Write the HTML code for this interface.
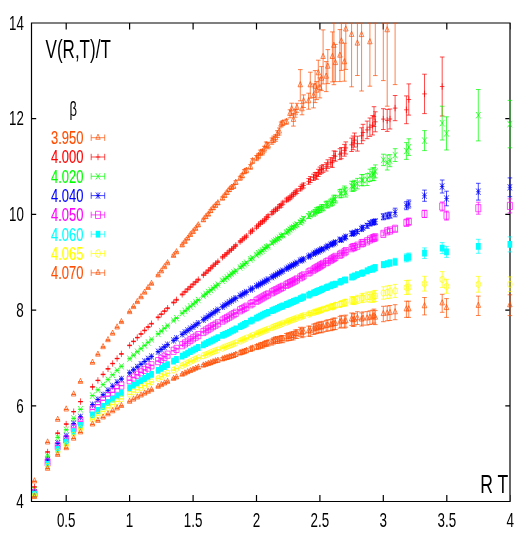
<!DOCTYPE html>
<html><head><meta charset="utf-8"><title>V(R,T)/T</title>
<style>
html,body{margin:0;padding:0;background:#fff;}
svg{display:block;opacity:0.999;will-change:transform;font-family:"Liberation Sans",sans-serif;}
</style></head><body>
<svg width="526" height="540" viewBox="0 0 526 540">
<rect width="526" height="540" fill="#fff"/>
<defs><clipPath id="c"><rect x="31.5" y="22.5" width="484.5" height="479.0"/></clipPath></defs>
<path d="M31.5 23.0H510.0V501.5H31.5ZM66.2 501.5v-6.5M66.2 23.0v6.5M129.6 501.5v-6.5M129.6 23.0v6.5M193.1 501.5v-6.5M193.1 23.0v6.5M256.5 501.5v-6.5M256.5 23.0v6.5M319.9 501.5v-6.5M319.9 23.0v6.5M383.3 501.5v-6.5M383.3 23.0v6.5M446.8 501.5v-6.5M446.8 23.0v6.5M510.2 501.5v-6.5M510.2 23.0v6.5M31.5 501.5h4.7M510.0 501.5h-4.7M31.5 405.8h4.7M510.0 405.8h-4.7M31.5 310.1h4.7M510.0 310.1h-4.7M31.5 214.4h4.7M510.0 214.4h-4.7M31.5 118.7h4.7M510.0 118.7h-4.7M31.5 23.0h4.7M510.0 23.0h-4.7" fill="none" stroke="#000" stroke-width="1.2" stroke-linejoin="miter"/>
<g clip-path="url(#c)">
<path d="M34.5 481.1V481.4M32.2 481.1H36.8M32.2 481.4H36.8M34.5 477.7L36.7 482.9H32.2ZM34.2 481.3h0.6M47.6 442.2V442.5M45.3 442.2H49.9M45.3 442.5H49.9M47.6 438.8L49.9 444.0H45.4ZM47.3 442.4h0.6M57.7 419.5V419.8M55.4 419.5H60.0M55.4 419.8H60.0M57.7 416.1L60.0 421.3H55.5ZM57.4 419.7h0.6M66.2 409.2V409.5M63.9 409.2H68.5M63.9 409.5H68.5M66.2 405.8L68.5 411.0H64.0ZM65.9 409.4h0.6M73.7 394.2V394.5M71.4 394.2H76.0M71.4 394.5H76.0M73.7 390.8L75.9 396.0H71.4ZM73.4 394.4h0.6M80.5 381.7V382.0M78.2 381.7H82.8M78.2 382.0H82.8M80.5 378.3L82.7 383.4H78.2ZM80.2 381.8h0.6M92.5 362.4V363.0M90.2 362.4H94.8M90.2 363.0H94.8M92.5 359.1L94.7 364.3H90.2ZM92.2 362.7h0.6M97.9 354.2V354.9M95.6 354.2H100.2M95.6 354.9H100.2M97.9 351.0L100.2 356.2H95.7ZM97.6 354.6h0.6M103.1 346.7V347.4M100.8 346.7H105.4M100.8 347.4H105.4M103.1 343.5L105.3 348.7H100.8ZM102.8 347.1h0.6M108.0 339.7V340.5M105.7 339.7H110.3M105.7 340.5H110.3M108.0 336.5L110.2 341.7H105.7ZM107.7 340.1h0.6M112.6 333.2V334.0M110.3 333.2H114.9M110.3 334.0H114.9M112.6 330.0L114.9 335.2H110.4ZM112.3 333.6h0.6M117.1 327.0V327.8M114.8 327.0H119.4M114.8 327.8H119.4M117.1 323.8L119.4 329.0H114.9ZM116.8 327.4h0.6M121.4 321.5V322.4M119.1 321.5H123.7M119.1 322.4H123.7M121.4 318.4L123.7 323.6H119.2ZM121.1 322.0h0.6M129.6 311.6V312.6M127.3 311.6H131.9M127.3 312.6H131.9M129.6 308.5L131.9 313.7H127.4ZM129.3 312.1h0.6M133.5 306.5V307.5M131.2 306.5H135.8M131.2 307.5H135.8M133.5 303.4L135.8 308.6H131.3ZM133.2 307.0h0.6M137.3 301.5V302.6M135.0 301.5H139.6M135.0 302.6H139.6M137.3 298.4L139.6 303.6H135.1ZM137.0 302.0h0.6M141.0 296.7V297.8M138.7 296.7H143.3M138.7 297.8H143.3M141.0 293.6L143.3 298.8H138.8ZM140.7 297.2h0.6M144.6 292.0V293.2M142.3 292.0H146.9M142.3 293.2H146.9M144.6 289.0L146.9 294.2H142.4ZM144.3 292.6h0.6M148.1 287.3V288.6M145.8 287.3H150.4M145.8 288.6H150.4M148.1 284.4L150.4 289.5H145.9ZM147.8 287.9h0.6M151.5 283.1V284.4M149.2 283.1H153.8M149.2 284.4H153.8M151.5 280.2L153.8 285.3H149.3ZM151.2 283.7h0.6M158.1 274.7V276.0M155.8 274.7H160.4M155.8 276.0H160.4M158.1 271.8L160.4 276.9H155.9ZM157.8 275.3h0.6M161.3 270.6V272.0M159.0 270.6H163.6M159.0 272.0H163.6M161.3 267.7L163.6 272.9H159.1ZM161.0 271.3h0.6M164.5 266.3V267.8M162.2 266.3H166.8M162.2 267.8H166.8M164.5 263.5L166.7 268.7H162.2ZM164.2 267.1h0.6M167.6 262.4V263.9M165.3 262.4H169.9M165.3 263.9H169.9M167.6 259.6L169.8 264.8H165.3ZM167.3 263.2h0.6M173.6 254.9V256.6M171.3 254.9H175.9M171.3 256.6H175.9M173.6 252.2L175.8 257.4H171.3ZM173.3 255.8h0.6M176.5 251.4V253.0M174.2 251.4H178.8M174.2 253.0H178.8M176.5 248.6L178.7 253.8H174.2ZM176.2 252.2h0.6M182.2 244.4V246.2M179.9 244.4H184.5M179.9 246.2H184.5M182.2 241.7L184.4 246.9H179.9ZM181.9 245.3h0.6M185.0 240.9V242.7M182.7 240.9H187.3M182.7 242.7H187.3M185.0 238.2L187.2 243.4H182.7ZM184.7 241.8h0.6M187.7 237.6V239.5M185.4 237.6H190.0M185.4 239.5H190.0M187.7 235.0L189.9 240.1H185.4ZM187.4 238.5h0.6M190.4 234.0V235.9M188.1 234.0H192.7M188.1 235.9H192.7M190.4 231.3L192.6 236.5H188.1ZM190.1 234.9h0.6M193.1 230.9V232.9M190.8 230.9H195.4M190.8 232.9H195.4M193.1 228.3L195.3 233.5H190.8ZM192.8 231.9h0.6M195.7 227.7V229.8M193.4 227.7H198.0M193.4 229.8H198.0M195.7 225.2L197.9 230.3H193.4ZM195.4 228.7h0.6M198.3 224.2V226.3M196.0 224.2H200.6M196.0 226.3H200.6M198.3 221.7L200.5 226.9H196.0ZM198.0 225.3h0.6M203.4 219.0V221.3M201.1 219.0H205.7M201.1 221.3H205.7M203.4 216.6L205.6 221.8H201.1ZM203.1 220.2h0.6M205.8 215.8V218.2M203.5 215.8H208.1M203.5 218.2H208.1M205.8 213.4L208.1 218.6H203.6ZM205.5 217.0h0.6M208.3 213.2V215.7M206.0 213.2H210.6M206.0 215.7H210.6M208.3 210.9L210.6 216.1H206.1ZM208.0 214.5h0.6M210.7 209.7V212.3M208.4 209.7H213.0M208.4 212.3H213.0M210.7 207.4L213.0 212.6H208.5ZM210.4 211.0h0.6M213.1 206.9V209.5M210.8 206.9H215.4M210.8 209.5H215.4M213.1 204.6L215.4 209.8H210.9ZM212.8 208.2h0.6M215.5 204.3V207.1M213.2 204.3H217.8M213.2 207.1H217.8M215.5 202.1L217.8 207.3H213.3ZM215.2 205.7h0.6M217.9 201.8V204.6M215.6 201.8H220.2M215.6 204.6H220.2M217.9 199.6L220.1 204.8H215.6ZM217.6 203.2h0.6M222.5 196.9V199.9M220.2 196.9H224.8M220.2 199.9H224.8M222.5 194.8L224.7 200.0H220.2ZM222.2 198.4h0.6M224.8 194.1V197.2M222.5 194.1H227.1M222.5 197.2H227.1M224.8 192.1L227.0 197.3H222.5ZM224.5 195.7h0.6M227.0 191.1V194.3M224.7 191.1H229.3M224.7 194.3H229.3M227.0 189.2L229.3 194.3H224.8ZM226.7 192.7h0.6M229.3 188.3V191.6M227.0 188.3H231.6M227.0 191.6H231.6M229.3 186.3L231.5 191.5H227.0ZM229.0 189.9h0.6M231.5 186.0V189.4M229.2 186.0H233.8M229.2 189.4H233.8M231.5 184.1L233.7 189.3H229.2ZM231.2 187.7h0.6M233.7 184.7V188.3M231.4 184.7H236.0M231.4 188.3H236.0M233.7 182.9L235.9 188.1H231.4ZM233.4 186.5h0.6M235.8 180.7V184.4M233.5 180.7H238.1M233.5 184.4H238.1M235.8 179.0L238.1 184.2H233.6ZM235.5 182.6h0.6M240.1 176.3V180.2M237.8 176.3H242.4M237.8 180.2H242.4M240.1 174.7L242.4 179.8H237.9ZM239.8 178.2h0.6M242.2 173.8V177.9M239.9 173.8H244.5M239.9 177.9H244.5M242.2 172.3L244.5 177.5H240.0ZM241.9 175.9h0.6M244.3 169.6V173.8M242.0 169.6H246.6M242.0 173.8H246.6M244.3 168.1L246.6 173.3H242.1ZM244.0 171.7h0.6M246.4 168.4V172.8M244.1 168.4H248.7M244.1 172.8H248.7M246.4 167.0L248.6 172.2H244.1ZM246.1 170.6h0.6M250.5 164.6V169.3M248.2 164.6H252.8M248.2 169.3H252.8M250.5 163.4L252.7 168.6H248.2ZM250.2 167.0h0.6M252.5 158.7V163.5M250.2 158.7H254.8M250.2 163.5H254.8M252.5 157.5L254.7 162.7H250.2ZM252.2 161.1h0.6M256.5 155.5V160.7M254.2 155.5H258.8M254.2 160.7H258.8M256.5 154.5L258.7 159.7H254.2ZM256.2 158.1h0.6M258.5 153.4V158.7M256.2 153.4H260.8M256.2 158.7H260.8M258.5 152.4L260.7 157.6H256.2ZM258.2 156.0h0.6M260.4 150.1V155.6M258.1 150.1H262.7M258.1 155.6H262.7M260.4 149.2L262.7 154.4H258.2ZM260.1 152.8h0.6M262.4 149.3V155.0M260.1 149.3H264.7M260.1 155.0H264.7M262.4 148.6L264.6 153.8H260.1ZM262.1 152.2h0.6M264.3 146.3V152.0M262.0 146.3H266.6M262.0 152.0H266.6M264.3 145.6L266.5 150.8H262.0ZM264.0 149.2h0.6M266.2 142.0V147.9M263.9 142.0H268.5M263.9 147.9H268.5M266.2 141.4L268.5 146.6H264.0ZM265.9 145.0h0.6M268.1 142.8V148.8M265.8 142.8H270.4M265.8 148.8H270.4M268.1 142.2L270.4 147.4H265.9ZM267.8 145.8h0.6M271.9 138.0V144.3M269.6 138.0H274.2M269.6 144.3H274.2M271.9 137.5L274.1 142.7H269.6ZM271.6 141.1h0.6M273.7 136.1V142.6M271.4 136.1H276.0M271.4 142.6H276.0M273.7 135.8L276.0 140.9H271.5ZM273.4 139.3h0.6M275.6 134.6V141.3M273.3 134.6H277.9M273.3 141.3H277.9M275.6 134.3L277.8 139.5H273.3ZM275.3 137.9h0.6M277.4 130.7V137.5M275.1 130.7H279.7M275.1 137.5H279.7M277.4 130.5L279.7 135.7H275.2ZM277.1 134.1h0.6M279.3 128.0V135.0M277.0 128.0H281.6M277.0 135.0H281.6M279.3 127.9L281.5 133.1H277.0ZM279.0 131.5h0.6M281.1 122.0V127.0M278.8 122.0H283.4M278.8 127.0H283.4M281.1 120.9L283.3 126.1H278.8ZM280.8 124.5h0.6M282.9 120.6V125.6M280.6 120.6H285.2M280.6 125.6H285.2M282.9 119.5L285.1 124.7H280.6ZM282.6 123.1h0.6M286.4 119.3V124.3M284.1 119.3H288.7M284.1 124.3H288.7M286.4 118.2L288.7 123.4H284.2ZM286.1 121.8h0.6M290.0 109.8V117.8M287.7 109.8H292.3M287.7 117.8H292.3M290.0 110.2L292.2 115.4H287.7ZM289.7 113.8h0.6M291.7 103.2V115.2M289.4 103.2H294.0M289.4 115.2H294.0M291.7 105.6L294.0 110.8H289.5ZM291.4 109.2h0.6M293.4 113.5V126.1M291.1 113.5H295.7M291.1 126.1H295.7M293.4 116.2L295.7 121.4H291.2ZM293.1 119.8h0.6M295.2 109.2V117.2M292.9 109.2H297.5M292.9 117.2H297.5M295.2 109.6L297.4 114.8H292.9ZM294.9 113.2h0.6M296.9 103.3V112.3M294.6 103.3H299.2M294.6 112.3H299.2M296.9 104.2L299.1 109.4H294.6ZM296.6 107.8h0.6M300.3 69.6V100.8M298.0 69.6H302.6M298.0 100.8H302.6M300.3 81.6L302.5 86.8H298.0ZM300.0 85.2h0.6M302.0 103.6V114.8M299.7 103.6H304.3M299.7 114.8H304.3M302.0 105.6L304.2 110.8H299.7ZM301.7 109.2h0.6M303.6 94.9V107.5M301.3 94.9H305.9M301.3 107.5H305.9M303.6 97.6L305.9 102.8H301.4ZM303.3 101.2h0.6M308.6 93.2V109.2M306.3 93.2H310.9M306.3 109.2H310.9M308.6 97.6L310.9 102.8H306.4ZM308.3 101.2h0.6M310.3 72.2V98.2M308.0 72.2H312.6M308.0 98.2H312.6M310.3 81.6L312.5 86.8H308.0ZM310.0 85.2h0.6M313.5 83.9V107.9M311.2 83.9H315.8M311.2 107.9H315.8M313.5 92.3L315.8 97.5H311.3ZM313.2 95.9h0.6M315.1 70.6V102.6M312.8 70.6H317.4M312.8 102.6H317.4M315.1 83.0L317.4 88.2H312.9ZM314.8 86.6h0.6M316.7 81.6V99.6M314.4 81.6H319.0M314.4 99.6H319.0M316.7 87.0L319.0 92.2H314.5ZM316.4 90.6h0.6M318.3 60.2V86.2M316.0 60.2H320.6M316.0 86.2H320.6M318.3 69.6L320.6 74.8H316.1ZM318.0 73.2h0.6M319.9 77.9V97.9M317.6 77.9H322.2M317.6 97.9H322.2M319.9 84.3L322.2 89.5H317.7ZM319.6 87.9h0.6M321.5 66.6V90.6M319.2 66.6H323.8M319.2 90.6H323.8M321.5 75.0L323.8 80.2H319.3ZM321.2 78.6h0.6M323.1 29.9V83.9M320.8 29.9H325.4M320.8 83.9H325.4M323.1 53.3L325.3 58.5H320.8ZM322.8 56.9h0.6M326.2 61.6V91.6M323.9 61.6H328.5M323.9 91.6H328.5M326.2 73.0L328.5 78.2H324.0ZM325.9 76.6h0.6M327.8 49.6V83.6M325.5 49.6H330.1M325.5 83.6H330.1M327.8 63.0L330.0 68.2H325.5ZM327.5 66.6h0.6M332.4 31.9V81.9M330.1 31.9H334.7M330.1 81.9H334.7M332.4 53.3L334.6 58.5H330.1ZM332.1 56.9h0.6M333.9 23.0V84.7M331.6 23.0H336.2M331.6 84.7H336.2M333.9 42.1L336.1 47.3H331.6ZM333.6 45.7h0.6M335.4 44.4V81.6M333.1 44.4H337.7M333.1 81.6H337.7M335.4 59.4L337.6 64.6H333.1ZM335.1 63.0h0.6M339.9 29.6V81.6M337.6 29.6H342.2M337.6 81.6H342.2M339.9 52.0L342.2 57.2H337.7ZM339.6 55.6h0.6M341.4 23.0V70.4M339.1 23.0H343.7M339.1 70.4H343.7M341.4 37.8L343.6 43.0H339.1ZM341.1 41.4h0.6M344.4 43.2V81.2M342.1 43.2H346.7M342.1 81.2H346.7M344.4 58.6L346.6 63.8H342.1ZM344.1 62.2h0.6M345.8 23.0V69.4M343.5 23.0H348.1M343.5 69.4H348.1M345.8 25.8L348.1 31.0H343.6ZM345.5 29.4h0.6M351.6 23.0V86.8M349.3 23.0H353.9M349.3 86.8H353.9M351.6 31.2L353.9 36.4H349.4ZM351.3 34.8h0.6M357.4 23.0V75.5M355.1 23.0H359.7M355.1 75.5H359.7M357.4 39.9L359.6 45.1H355.1ZM357.1 43.5h0.6M361.6 23.0V91.0M359.3 23.0H363.9M359.3 91.0H363.9M361.6 31.4L363.8 36.6H359.3ZM361.3 35.0h0.6M369.9 23.0V86.2M367.6 23.0H372.2M367.6 86.2H372.2M369.9 38.6L372.1 43.8H367.6ZM369.6 42.2h0.6M375.3 23.0V75.6M373.0 23.0H377.6M373.0 75.6H377.6M375.3 15.0L377.6 20.2H373.1ZM375.0 18.6h0.6M383.3 23.0V80.6M381.0 23.0H385.6M381.0 80.6H385.6M383.3 12.0L385.6 17.2H381.1ZM383.0 15.6h0.6M387.2 23.0V106.2M384.9 23.0H389.5M384.9 106.2H389.5M387.2 26.6L389.4 31.8H384.9ZM386.9 30.2h0.6M395.1 23.0V84.6M392.8 23.0H397.4M392.8 84.6H397.4M395.1 7.0L397.4 12.2H392.9ZM394.8 10.6h0.6" fill="none" stroke="#ff4d00" stroke-width="0.7"/>
<path d="M34.5 486.8V487.1M32.2 486.8H36.8M32.2 487.1H36.8M32.2 487.0H36.7M34.5 483.8V490.2M47.6 451.8V452.1M45.3 451.8H49.9M45.3 452.1H49.9M45.4 452.0H49.9M47.6 448.8V455.2M57.7 433.0V433.3M55.4 433.0H60.0M55.4 433.3H60.0M55.5 433.2H60.0M57.7 430.0V436.4M66.2 423.9V424.2M63.9 423.9H68.5M63.9 424.2H68.5M64.0 424.1H68.5M66.2 420.9V427.3M73.7 411.5V411.8M71.4 411.5H76.0M71.4 411.8H76.0M71.4 411.7H75.9M73.7 408.5V414.9M80.5 401.5V401.8M78.2 401.5H82.8M78.2 401.8H82.8M78.2 401.6H82.7M80.5 398.4V404.8M92.5 386.7V387.1M90.2 386.7H94.8M90.2 387.1H94.8M90.2 386.9H94.7M92.5 383.7V390.1M97.9 380.2V380.6M95.6 380.2H100.2M95.6 380.6H100.2M95.7 380.4H100.2M97.9 377.2V383.6M103.1 374.2V374.7M100.8 374.2H105.4M100.8 374.7H105.4M100.8 374.4H105.3M103.1 371.2V377.6M108.0 368.6V369.1M105.7 368.6H110.3M105.7 369.1H110.3M105.7 368.8H110.2M108.0 365.6V372.0M112.6 363.3V363.8M110.3 363.3H114.9M110.3 363.8H114.9M110.4 363.5H114.9M112.6 360.3V366.7M117.1 358.3V358.8M114.8 358.3H119.4M114.8 358.8H119.4M114.9 358.5H119.4M117.1 355.3V361.7M121.4 353.7V354.2M119.1 353.7H123.7M119.1 354.2H123.7M119.2 353.9H123.7M121.4 350.7V357.1M129.6 345.1V345.7M127.3 345.1H131.9M127.3 345.7H131.9M127.4 345.4H131.9M129.6 342.2V348.6M133.5 341.1V341.7M131.2 341.1H135.8M131.2 341.7H135.8M131.3 341.4H135.8M133.5 338.2V344.6M137.3 337.3V337.9M135.0 337.3H139.6M135.0 337.9H139.6M135.1 337.6H139.6M137.3 334.4V340.8M141.0 333.6V334.3M138.7 333.6H143.3M138.7 334.3H143.3M138.8 334.0H143.3M141.0 330.8V337.2M144.6 330.1V330.8M142.3 330.1H146.9M142.3 330.8H146.9M142.4 330.4H146.9M144.6 327.2V333.6M148.1 326.6V327.4M145.8 326.6H150.4M145.8 327.4H150.4M145.9 327.0H150.4M148.1 323.8V330.2M151.5 323.3V324.1M149.2 323.3H153.8M149.2 324.1H153.8M149.3 323.7H153.8M151.5 320.5V326.9M158.1 316.9V317.7M155.8 316.9H160.4M155.8 317.7H160.4M155.9 317.3H160.4M158.1 314.1V320.5M161.3 313.8V314.6M159.0 313.8H163.6M159.0 314.6H163.6M159.1 314.2H163.6M161.3 311.0V317.4M164.5 310.7V311.6M162.2 310.7H166.8M162.2 311.6H166.8M162.2 311.2H166.7M164.5 308.0V314.4M167.6 307.8V308.7M165.3 307.8H169.9M165.3 308.7H169.9M165.3 308.2H169.8M167.6 305.0V311.4M173.6 302.0V303.0M171.3 302.0H175.9M171.3 303.0H175.9M171.3 302.5H175.8M173.6 299.3V305.7M176.5 299.3V300.3M174.2 299.3H178.8M174.2 300.3H178.8M174.2 299.8H178.7M176.5 296.6V303.0M182.2 293.9V295.0M179.9 293.9H184.5M179.9 295.0H184.5M179.9 294.4H184.4M182.2 291.2V297.6M185.0 291.3V292.4M182.7 291.3H187.3M182.7 292.4H187.3M182.7 291.8H187.2M185.0 288.6V295.0M187.7 288.7V289.9M185.4 288.7H190.0M185.4 289.9H190.0M185.4 289.3H189.9M187.7 286.1V292.5M190.4 286.3V287.4M188.1 286.3H192.7M188.1 287.4H192.7M188.1 286.9H192.6M190.4 283.7V290.1M193.1 283.8V285.0M190.8 283.8H195.4M190.8 285.0H195.4M190.8 284.4H195.3M193.1 281.2V287.6M195.7 281.4V282.6M193.4 281.4H198.0M193.4 282.6H198.0M193.4 282.0H197.9M195.7 278.8V285.2M198.3 279.0V280.3M196.0 279.0H200.6M196.0 280.3H200.6M196.0 279.6H200.5M198.3 276.4V282.8M203.4 274.3V275.6M201.1 274.3H205.7M201.1 275.6H205.7M201.1 274.9H205.6M203.4 271.7V278.1M205.8 272.1V273.5M203.5 272.1H208.1M203.5 273.5H208.1M203.6 272.8H208.1M205.8 269.6V276.0M208.3 269.8V271.2M206.0 269.8H210.6M206.0 271.2H210.6M206.1 270.5H210.6M208.3 267.3V273.7M210.7 267.5V269.0M208.4 267.5H213.0M208.4 269.0H213.0M208.5 268.2H213.0M210.7 265.0V271.4M213.1 265.0V266.6M210.8 265.0H215.4M210.8 266.6H215.4M210.9 265.8H215.4M213.1 262.6V269.0M215.5 262.9V264.5M213.2 262.9H217.8M213.2 264.5H217.8M213.3 263.7H217.8M215.5 260.5V266.9M217.9 260.9V262.5M215.6 260.9H220.2M215.6 262.5H220.2M215.6 261.7H220.1M217.9 258.5V264.9M222.5 256.4V258.1M220.2 256.4H224.8M220.2 258.1H224.8M220.2 257.2H224.7M222.5 254.0V260.4M224.8 254.4V256.2M222.5 254.4H227.1M222.5 256.2H227.1M222.5 255.3H227.0M224.8 252.1V258.5M227.0 252.5V254.3M224.7 252.5H229.3M224.7 254.3H229.3M224.8 253.4H229.3M227.0 250.2V256.6M229.3 250.2V252.1M227.0 250.2H231.6M227.0 252.1H231.6M227.0 251.1H231.5M229.3 247.9V254.3M231.5 248.6V250.5M229.2 248.6H233.8M229.2 250.5H233.8M229.2 249.5H233.7M231.5 246.3V252.7M233.7 246.4V248.4M231.4 246.4H236.0M231.4 248.4H236.0M231.4 247.4H235.9M233.7 244.2V250.6M235.8 244.4V246.4M233.5 244.4H238.1M233.5 246.4H238.1M233.6 245.4H238.1M235.8 242.2V248.6M240.1 240.6V242.7M237.8 240.6H242.4M237.8 242.7H242.4M237.9 241.6H242.4M240.1 238.4V244.8M242.2 238.7V240.9M239.9 238.7H244.5M239.9 240.9H244.5M240.0 239.8H244.5M242.2 236.6V243.0M244.3 236.8V239.0M242.0 236.8H246.6M242.0 239.0H246.6M242.1 237.9H246.6M244.3 234.7V241.1M246.4 235.1V237.4M244.1 235.1H248.7M244.1 237.4H248.7M244.1 236.2H248.6M246.4 233.0V239.4M250.5 230.9V233.3M248.2 230.9H252.8M248.2 233.3H252.8M248.2 232.1H252.7M250.5 228.9V235.3M252.5 229.1V231.6M250.2 229.1H254.8M250.2 231.6H254.8M250.2 230.4H254.7M252.5 227.2V233.6M256.5 225.8V228.4M254.2 225.8H258.8M254.2 228.4H258.8M254.2 227.1H258.7M256.5 223.9V230.3M258.5 223.8V226.4M256.2 223.8H260.8M256.2 226.4H260.8M256.2 225.1H260.7M258.5 221.9V228.3M260.4 221.7V224.5M258.1 221.7H262.7M258.1 224.5H262.7M258.2 223.1H262.7M260.4 219.9V226.3M262.4 220.4V223.2M260.1 220.4H264.7M260.1 223.2H264.7M260.1 221.8H264.6M262.4 218.6V225.0M264.3 218.8V221.7M262.0 218.8H266.6M262.0 221.7H266.6M262.0 220.3H266.5M264.3 217.1V223.5M266.2 216.6V219.5M263.9 216.6H268.5M263.9 219.5H268.5M264.0 218.0H268.5M266.2 214.8V221.2M268.1 214.6V217.5M265.8 214.6H270.4M265.8 217.5H270.4M265.9 216.0H270.4M268.1 212.8V219.2M271.9 211.5V214.6M269.6 211.5H274.2M269.6 214.6H274.2M269.6 213.1H274.1M271.9 209.9V216.3M273.7 209.8V213.0M271.4 209.8H276.0M271.4 213.0H276.0M271.5 211.4H276.0M273.7 208.2V214.6M275.6 208.1V211.3M273.3 208.1H277.9M273.3 211.3H277.9M273.3 209.7H277.8M275.6 206.5V212.9M277.4 207.0V210.3M275.1 207.0H279.7M275.1 210.3H279.7M275.2 208.7H279.7M277.4 205.5V211.9M279.3 204.5V207.9M277.0 204.5H281.6M277.0 207.9H281.6M277.0 206.2H281.5M279.3 203.0V209.4M281.1 203.7V207.2M278.8 203.7H283.4M278.8 207.2H283.4M278.8 205.5H283.3M281.1 202.3V208.7M282.9 201.2V204.7M280.6 201.2H285.2M280.6 204.7H285.2M280.6 202.9H285.1M282.9 199.7V206.1M286.4 198.2V201.8M284.1 198.2H288.7M284.1 201.8H288.7M284.2 200.0H288.7M286.4 196.8V203.2M288.2 197.1V200.9M285.9 197.1H290.5M285.9 200.9H290.5M286.0 199.0H290.5M288.2 195.8V202.2M290.0 195.8V199.6M287.7 195.8H292.3M287.7 199.6H292.3M287.7 197.7H292.2M290.0 194.5V200.9M291.7 194.1V198.0M289.4 194.1H294.0M289.4 198.0H294.0M289.5 196.1H294.0M291.7 192.9V199.3M293.4 192.4V196.3M291.1 192.4H295.7M291.1 196.3H295.7M291.2 194.3H295.7M293.4 191.1V197.5M295.2 190.7V194.8M292.9 190.7H297.5M292.9 194.8H297.5M292.9 192.7H297.4M295.2 189.5V195.9M296.9 189.1V193.4M294.6 189.1H299.2M294.6 193.4H299.2M294.6 191.3H299.1M296.9 188.1V194.5M300.3 186.3V190.8M298.0 186.3H302.6M298.0 190.8H302.6M298.0 188.6H302.5M300.3 185.4V191.8M302.0 184.3V189.1M299.7 184.3H304.3M299.7 189.1H304.3M299.7 186.7H304.2M302.0 183.5V189.9M303.6 183.0V188.0M301.3 183.0H305.9M301.3 188.0H305.9M301.4 185.5H305.9M303.6 182.3V188.7M308.6 178.6V184.2M306.3 178.6H310.9M306.3 184.2H310.9M306.4 181.4H310.9M308.6 178.2V184.6M310.3 176.6V182.5M308.0 176.6H312.6M308.0 182.5H312.6M308.0 179.6H312.5M310.3 176.4V182.8M313.5 174.2V180.5M311.2 174.2H315.8M311.2 180.5H315.8M311.3 177.4H315.8M313.5 174.2V180.6M315.1 172.5V179.1M312.8 172.5H317.4M312.8 179.1H317.4M312.9 175.8H317.4M315.1 172.6V179.0M316.7 172.3V179.2M314.4 172.3H319.0M314.4 179.2H319.0M314.5 175.7H319.0M316.7 172.5V178.9M318.3 169.3V176.5M316.0 169.3H320.6M316.0 176.5H320.6M316.1 172.9H320.6M318.3 169.7V176.1M319.9 167.1V174.5M317.6 167.1H322.2M317.6 174.5H322.2M317.7 170.8H322.2M319.9 167.6V174.0M321.5 165.7V173.3M319.2 165.7H323.8M319.2 173.3H323.8M319.3 169.5H323.8M321.5 166.3V172.7M323.1 164.6V172.4M320.8 164.6H325.4M320.8 172.4H325.4M320.8 168.5H325.3M323.1 165.3V171.7M326.2 162.7V171.0M323.9 162.7H328.5M323.9 171.0H328.5M324.0 166.8H328.5M326.2 163.6V170.0M327.8 159.8V168.4M325.5 159.8H330.1M325.5 168.4H330.1M325.5 164.1H330.0M327.8 160.9V167.3M330.8 157.7V166.8M328.5 157.7H333.1M328.5 166.8H333.1M328.6 162.2H333.1M330.8 159.0V165.4M332.4 158.0V167.4M330.1 158.0H334.7M330.1 167.4H334.7M330.1 162.7H334.6M332.4 159.5V165.9M333.9 150.9V160.6M331.6 150.9H336.2M331.6 160.6H336.2M331.6 155.7H336.1M333.9 152.5V158.9M335.4 151.3V161.2M333.1 151.3H337.7M333.1 161.2H337.7M333.1 156.2H337.6M335.4 153.0V159.4M339.9 148.7V159.6M337.6 148.7H342.2M337.6 159.6H342.2M337.7 154.2H342.2M339.9 151.0V157.4M341.4 147.5V158.7M339.1 147.5H343.7M339.1 158.7H343.7M339.1 153.1H343.6M341.4 149.9V156.3M344.4 144.4V156.2M342.1 144.4H346.7M342.1 156.2H346.7M342.1 150.3H346.6M344.4 147.1V153.5M345.8 141.9V154.0M343.5 141.9H348.1M343.5 154.0H348.1M343.6 147.9H348.1M345.8 144.7V151.1M351.6 138.1V151.5M349.3 138.1H353.9M349.3 151.5H353.9M349.4 144.8H353.9M351.6 141.6V148.0M353.1 136.0V149.7M350.8 136.0H355.4M350.8 149.7H355.4M350.8 142.9H355.3M353.1 139.7V146.1M354.5 133.0V147.1M352.2 133.0H356.8M352.2 147.1H356.8M352.3 140.1H356.8M354.5 136.9V143.3M357.4 136.2V151.1M355.1 136.2H359.7M355.1 151.1H359.7M355.1 143.7H359.6M357.4 140.5V146.9M361.6 127.8V143.7M359.3 127.8H363.9M359.3 143.7H363.9M359.3 135.8H363.8M361.6 132.6V139.0M363.0 124.3V140.7M360.7 124.3H365.3M360.7 140.7H365.3M360.7 132.5H365.2M363.0 129.3V135.7M367.1 121.1V138.7M364.8 121.1H369.4M364.8 138.7H369.4M364.9 129.9H369.4M367.1 126.7V133.1M369.9 118.0V136.4M367.6 118.0H372.2M367.6 136.4H372.2M367.6 127.2H372.1M369.9 124.0V130.4M372.6 115.6V135.0M370.3 115.6H374.9M370.3 135.0H374.9M370.4 125.3H374.9M372.6 122.1V128.5M374.0 106.7V126.5M371.7 106.7H376.3M371.7 126.5H376.3M371.7 116.6H376.2M374.0 113.4V119.8M375.3 111.8V131.8M373.0 111.8H377.6M373.0 131.8H377.6M373.1 121.8H377.6M375.3 118.6V125.0M383.3 108.7V129.5M381.0 108.7H385.6M381.0 129.5H385.6M381.1 119.1H385.6M383.3 115.9V122.3M387.2 109.4V131.4M384.9 109.4H389.5M384.9 131.4H389.5M384.9 120.4H389.4M387.2 117.2V123.6M390.0 109.0V129.0M387.7 109.0H392.3M387.7 129.0H392.3M387.8 119.0H392.2M390.0 115.8V122.2M395.1 95.5V120.7M392.8 95.5H397.4M392.8 120.7H397.4M392.9 108.1H397.4M395.1 104.9V111.3M406.4 95.9V123.7M404.1 95.9H408.7M404.1 123.7H408.7M404.1 109.8H408.6M406.4 106.6V113.0M408.8 83.9V115.1M406.5 83.9H411.1M406.5 115.1H411.1M406.6 99.5H411.1M408.8 96.3V102.7M424.5 74.2V113.6M422.2 74.2H426.8M422.2 113.6H426.8M422.2 93.9H426.8M424.5 90.7V97.1M442.2 57.0V116.0M439.9 57.0H444.5M439.9 116.0H444.5M439.9 86.5H444.4M442.2 83.3V89.7" fill="none" stroke="#ff0000" stroke-width="0.7"/>
<path d="M34.5 489.9V490.2M32.2 489.9H36.8M32.2 490.2H36.8M32.2 486.9L36.7 493.3M32.2 493.3L36.7 486.9M47.6 456.0V456.3M45.3 456.0H49.9M45.3 456.3H49.9M45.4 452.9L49.9 459.3M45.4 459.3L49.9 452.9M57.7 437.3V437.6M55.4 437.3H60.0M55.4 437.6H60.0M55.5 434.3L60.0 440.7M55.5 440.7L60.0 434.3M66.2 429.7V430.0M63.9 429.7H68.5M63.9 430.0H68.5M64.0 426.6L68.5 433.0M64.0 433.0L68.5 426.6M73.7 418.2V418.5M71.4 418.2H76.0M71.4 418.5H76.0M71.4 415.2L75.9 421.6M71.4 421.6L75.9 415.2M80.5 409.1V409.4M78.2 409.1H82.8M78.2 409.4H82.8M78.2 406.1L82.7 412.5M78.2 412.5L82.7 406.1M92.5 395.4V395.8M90.2 395.4H94.8M90.2 395.8H94.8M90.2 392.4L94.7 398.8M90.2 398.8L94.7 392.4M97.9 389.7V390.1M95.6 389.7H100.2M95.6 390.1H100.2M95.7 386.7L100.2 393.1M95.7 393.1L100.2 386.7M103.1 384.3V384.8M100.8 384.3H105.4M100.8 384.8H105.4M100.8 381.4L105.3 387.8M100.8 387.8L105.3 381.4M108.0 379.3V379.8M105.7 379.3H110.3M105.7 379.8H110.3M105.7 376.4L110.2 382.8M105.7 382.8L110.2 376.4M112.6 374.6V375.1M110.3 374.6H114.9M110.3 375.1H114.9M110.4 371.6L114.9 378.0M110.4 378.0L114.9 371.6M117.1 370.1V370.6M114.8 370.1H119.4M114.8 370.6H119.4M114.9 367.2L119.4 373.6M114.9 373.6L119.4 367.2M121.4 366.0V366.5M119.1 366.0H123.7M119.1 366.5H123.7M119.2 363.1L123.7 369.5M119.2 369.5L123.7 363.1M129.6 358.4V359.0M127.3 358.4H131.9M127.3 359.0H131.9M127.4 355.5L131.9 361.9M127.4 361.9L131.9 355.5M133.5 354.9V355.5M131.2 354.9H135.8M131.2 355.5H135.8M131.3 352.0L135.8 358.4M131.3 358.4L135.8 352.0M137.3 351.5V352.1M135.0 351.5H139.6M135.0 352.1H139.6M135.1 348.6L139.6 355.0M135.1 355.0L139.6 348.6M141.0 348.2V348.9M138.7 348.2H143.3M138.7 348.9H143.3M138.8 345.4L143.3 351.8M138.8 351.8L143.3 345.4M144.6 345.1V345.8M142.3 345.1H146.9M142.3 345.8H146.9M142.4 342.2L146.9 348.6M142.4 348.6L146.9 342.2M148.1 342.1V342.8M145.8 342.1H150.4M145.8 342.8H150.4M145.9 339.2L150.4 345.6M145.9 345.6L150.4 339.2M151.5 339.1V339.8M149.2 339.1H153.8M149.2 339.8H153.8M149.3 336.3L153.8 342.7M149.3 342.7L153.8 336.3M158.1 333.5V334.3M155.8 333.5H160.4M155.8 334.3H160.4M155.9 330.7L160.4 337.1M155.9 337.1L160.4 330.7M161.3 330.7V331.5M159.0 330.7H163.6M159.0 331.5H163.6M159.1 327.9L163.6 334.3M159.1 334.3L163.6 327.9M164.5 327.9V328.7M162.2 327.9H166.8M162.2 328.7H166.8M162.2 325.1L166.7 331.5M162.2 331.5L166.7 325.1M167.6 325.3V326.1M165.3 325.3H169.9M165.3 326.1H169.9M165.3 322.5L169.8 328.9M165.3 328.9L169.8 322.5M173.6 320.1V321.0M171.3 320.1H175.9M171.3 321.0H175.9M171.3 317.3L175.8 323.7M171.3 323.7L175.8 317.3M176.5 317.6V318.5M174.2 317.6H178.8M174.2 318.5H178.8M174.2 314.9L178.7 321.3M174.2 321.3L178.7 314.9M182.2 312.8V313.7M179.9 312.8H184.5M179.9 313.7H184.5M179.9 310.1L184.4 316.5M179.9 316.5L184.4 310.1M185.0 310.5V311.4M182.7 310.5H187.3M182.7 311.4H187.3M182.7 307.7L187.2 314.1M182.7 314.1L187.2 307.7M187.7 308.2V309.1M185.4 308.2H190.0M185.4 309.1H190.0M185.4 305.5L189.9 311.9M185.4 311.9L189.9 305.5M190.4 306.0V306.9M188.1 306.0H192.7M188.1 306.9H192.7M188.1 303.2L192.6 309.6M188.1 309.6L192.6 303.2M193.1 303.8V304.8M190.8 303.8H195.4M190.8 304.8H195.4M190.8 301.1L195.3 307.5M190.8 307.5L195.3 301.1M195.7 301.6V302.6M193.4 301.6H198.0M193.4 302.6H198.0M193.4 298.9L197.9 305.3M193.4 305.3L197.9 298.9M198.3 299.5V300.6M196.0 299.5H200.6M196.0 300.6H200.6M196.0 296.8L200.5 303.2M196.0 303.2L200.5 296.8M203.4 295.4V296.5M201.1 295.4H205.7M201.1 296.5H205.7M201.1 292.7L205.6 299.1M201.1 299.1L205.6 292.7M205.8 293.4V294.5M203.5 293.4H208.1M203.5 294.5H208.1M203.6 290.8L208.1 297.2M203.6 297.2L208.1 290.8M208.3 291.4V292.6M206.0 291.4H210.6M206.0 292.6H210.6M206.1 288.8L210.6 295.2M206.1 295.2L210.6 288.8M210.7 289.5V290.7M208.4 289.5H213.0M208.4 290.7H213.0M208.5 286.9L213.0 293.3M208.5 293.3L213.0 286.9M213.1 287.6V288.8M210.8 287.6H215.4M210.8 288.8H215.4M210.9 285.0L215.4 291.4M210.9 291.4L215.4 285.0M215.5 285.7V287.0M213.2 285.7H217.8M213.2 287.0H217.8M213.3 283.1L217.8 289.5M213.3 289.5L217.8 283.1M217.9 283.9V285.2M215.6 283.9H220.2M215.6 285.2H220.2M215.6 281.3L220.1 287.7M215.6 287.7L220.1 281.3M222.5 280.1V281.5M220.2 280.1H224.8M220.2 281.5H224.8M220.2 277.6L224.7 284.0M220.2 284.0L224.7 277.6M224.8 278.4V279.8M222.5 278.4H227.1M222.5 279.8H227.1M222.5 275.9L227.0 282.3M222.5 282.3L227.0 275.9M227.0 276.7V278.2M224.7 276.7H229.3M224.7 278.2H229.3M224.8 274.2L229.3 280.6M224.8 280.6L229.3 274.2M229.3 274.9V276.4M227.0 274.9H231.6M227.0 276.4H231.6M227.0 272.4L231.5 278.8M227.0 278.8L231.5 272.4M231.5 273.2V274.7M229.2 273.2H233.8M229.2 274.7H233.8M229.2 270.7L233.7 277.1M229.2 277.1L233.7 270.7M233.7 271.5V273.0M231.4 271.5H236.0M231.4 273.0H236.0M231.4 269.0L235.9 275.4M231.4 275.4L235.9 269.0M235.8 270.0V271.6M233.5 270.0H238.1M233.5 271.6H238.1M233.6 267.6L238.1 274.0M233.6 274.0L238.1 267.6M240.1 266.7V268.4M237.8 266.7H242.4M237.8 268.4H242.4M237.9 264.3L242.4 270.7M237.9 270.7L242.4 264.3M242.2 265.1V266.9M239.9 265.1H244.5M239.9 266.9H244.5M240.0 262.8L244.5 269.2M240.0 269.2L244.5 262.8M244.3 263.3V265.1M242.0 263.3H246.6M242.0 265.1H246.6M242.1 261.0L246.6 267.4M242.1 267.4L246.6 261.0M246.4 261.8V263.6M244.1 261.8H248.7M244.1 263.6H248.7M244.1 259.5L248.6 265.9M244.1 265.9L248.6 259.5M250.5 258.4V260.3M248.2 258.4H252.8M248.2 260.3H252.8M248.2 256.2L252.7 262.6M248.2 262.6L252.7 256.2M252.5 257.1V259.0M250.2 257.1H254.8M250.2 259.0H254.8M250.2 254.8L254.7 261.2M250.2 261.2L254.7 254.8M256.5 254.0V256.0M254.2 254.0H258.8M254.2 256.0H258.8M254.2 251.8L258.7 258.2M254.2 258.2L258.7 251.8M258.5 252.2V254.2M256.2 252.2H260.8M256.2 254.2H260.8M256.2 250.0L260.7 256.4M256.2 256.4L260.7 250.0M260.4 251.0V253.1M258.1 251.0H262.7M258.1 253.1H262.7M258.2 248.8L262.7 255.2M258.2 255.2L262.7 248.8M262.4 249.4V251.6M260.1 249.4H264.7M260.1 251.6H264.7M260.1 247.3L264.6 253.7M260.1 253.7L264.6 247.3M264.3 247.7V249.9M262.0 247.7H266.6M262.0 249.9H266.6M262.0 245.6L266.5 252.0M262.0 252.0L266.5 245.6M266.2 245.9V248.2M263.9 245.9H268.5M263.9 248.2H268.5M264.0 243.9L268.5 250.3M264.0 250.3L268.5 243.9M268.1 245.0V247.3M265.8 245.0H270.4M265.8 247.3H270.4M265.9 243.0L270.4 249.4M265.9 249.4L270.4 243.0M271.9 241.8V244.3M269.6 241.8H274.2M269.6 244.3H274.2M269.6 239.9L274.1 246.3M269.6 246.3L274.1 239.9M273.7 240.3V242.8M271.4 240.3H276.0M271.4 242.8H276.0M271.5 238.3L276.0 244.7M271.5 244.7L276.0 238.3M275.6 239.0V241.7M273.3 239.0H277.9M273.3 241.7H277.9M273.3 237.1L277.8 243.5M273.3 243.5L277.8 237.1M277.4 237.6V240.3M275.1 237.6H279.7M275.1 240.3H279.7M275.2 235.8L279.7 242.2M275.2 242.2L279.7 235.8M279.3 236.5V239.2M277.0 236.5H281.6M277.0 239.2H281.6M277.0 234.6L281.5 241.0M277.0 241.0L281.5 234.6M281.1 234.5V237.3M278.8 234.5H283.4M278.8 237.3H283.4M278.8 232.7L283.3 239.1M278.8 239.1L283.3 232.7M282.9 233.6V236.5M280.6 233.6H285.2M280.6 236.5H285.2M280.6 231.9L285.1 238.3M280.6 238.3L285.1 231.9M286.4 231.0V234.0M284.1 231.0H288.7M284.1 234.0H288.7M284.2 229.3L288.7 235.7M284.2 235.7L288.7 229.3M288.2 229.6V232.8M285.9 229.6H290.5M285.9 232.8H290.5M286.0 228.0L290.5 234.4M286.0 234.4L290.5 228.0M290.0 227.9V231.1M287.7 227.9H292.3M287.7 231.1H292.3M287.7 226.3L292.2 232.7M287.7 232.7L292.2 226.3M291.7 226.4V229.6M289.4 226.4H294.0M289.4 229.6H294.0M289.5 224.8L294.0 231.2M289.5 231.2L294.0 224.8M293.4 225.5V228.9M291.1 225.5H295.7M291.1 228.9H295.7M291.2 224.0L295.7 230.4M291.2 230.4L295.7 224.0M295.2 224.0V227.4M292.9 224.0H297.5M292.9 227.4H297.5M292.9 222.5L297.4 228.9M292.9 228.9L297.4 222.5M296.9 222.6V226.2M294.6 222.6H299.2M294.6 226.2H299.2M294.6 221.2L299.1 227.6M294.6 227.6L299.1 221.2M300.3 220.5V224.3M298.0 220.5H302.6M298.0 224.3H302.6M298.0 219.2L302.5 225.6M298.0 225.6L302.5 219.2M302.0 218.7V222.7M299.7 218.7H304.3M299.7 222.7H304.3M299.7 217.5L304.2 223.9M299.7 223.9L304.2 217.5M303.6 216.6V220.8M301.3 216.6H305.9M301.3 220.8H305.9M301.4 215.5L305.9 221.9M301.4 221.9L305.9 215.5M308.6 213.8V218.5M306.3 213.8H310.9M306.3 218.5H310.9M306.4 213.0L310.9 219.4M306.4 219.4L310.9 213.0M310.3 211.9V216.8M308.0 211.9H312.6M308.0 216.8H312.6M308.0 211.1L312.5 217.5M308.0 217.5L312.5 211.1M313.5 210.9V216.1M311.2 210.9H315.8M311.2 216.1H315.8M311.3 210.3L315.8 216.7M311.3 216.7L315.8 210.3M315.1 209.5V214.9M312.8 209.5H317.4M312.8 214.9H317.4M312.9 209.0L317.4 215.4M312.9 215.4L317.4 209.0M316.7 207.8V213.4M314.4 207.8H319.0M314.4 213.4H319.0M314.5 207.4L319.0 213.8M314.5 213.8L319.0 207.4M318.3 207.0V212.8M316.0 207.0H320.6M316.0 212.8H320.6M316.1 206.7L320.6 213.1M316.1 213.1L320.6 206.7M319.9 206.4V212.4M317.6 206.4H322.2M317.6 212.4H322.2M317.7 206.2L322.2 212.6M317.7 212.6L322.2 206.2M321.5 204.8V210.9M319.2 204.8H323.8M319.2 210.9H323.8M319.3 204.7L323.8 211.1M319.3 211.1L323.8 204.7M323.1 204.5V210.8M320.8 204.5H325.4M320.8 210.8H325.4M320.8 204.5L325.3 210.9M320.8 210.9L325.3 204.5M326.2 201.3V208.0M323.9 201.3H328.5M323.9 208.0H328.5M324.0 201.5L328.5 207.9M324.0 207.9L328.5 201.5M327.8 201.0V207.8M325.5 201.0H330.1M325.5 207.8H330.1M325.5 201.2L330.0 207.6M325.5 207.6L330.0 201.2M330.8 199.1V206.3M328.5 199.1H333.1M328.5 206.3H333.1M328.6 199.5L333.1 205.9M328.6 205.9L333.1 199.5M332.4 198.1V205.4M330.1 198.1H334.7M330.1 205.4H334.7M330.1 198.6L334.6 205.0M330.1 205.0L334.6 198.6M333.9 195.2V202.7M331.6 195.2H336.2M331.6 202.7H336.2M331.6 195.7L336.1 202.1M331.6 202.1L336.1 195.7M335.4 195.3V203.0M333.1 195.3H337.7M333.1 203.0H337.7M333.1 196.0L337.6 202.4M333.1 202.4L337.6 196.0M339.9 189.5V197.8M337.6 189.5H342.2M337.6 197.8H342.2M337.7 190.5L342.2 196.9M337.7 196.9L342.2 190.5M341.4 189.1V197.6M339.1 189.1H343.7M339.1 197.6H343.7M339.1 190.2L343.6 196.6M339.1 196.6L343.6 190.2M344.4 186.0V194.9M342.1 186.0H346.7M342.1 194.9H346.7M342.1 187.2L346.6 193.6M342.1 193.6L346.6 187.2M345.8 187.9V197.0M343.5 187.9H348.1M343.5 197.0H348.1M343.6 189.3L348.1 195.7M343.6 195.7L348.1 189.3M351.6 181.2V191.0M349.3 181.2H353.9M349.3 191.0H353.9M349.4 182.9L353.9 189.3M349.4 189.3L353.9 182.9M353.1 181.5V191.5M350.8 181.5H355.4M350.8 191.5H355.4M350.8 183.3L355.3 189.7M350.8 189.7L355.3 183.3M354.5 180.3V190.4M352.2 180.3H356.8M352.2 190.4H356.8M352.3 182.1L356.8 188.5M352.3 188.5L356.8 182.1M357.4 178.4V188.9M355.1 178.4H359.7M355.1 188.9H359.7M355.1 180.4L359.6 186.8M355.1 186.8L359.6 180.4M361.6 174.6V185.6M359.3 174.6H363.9M359.3 185.6H363.9M359.3 176.9L363.8 183.3M359.3 183.3L363.8 176.9M363.0 174.6V185.8M360.7 174.6H365.3M360.7 185.8H365.3M360.7 177.0L365.2 183.4M360.7 183.4L365.2 177.0M367.1 173.6V185.5M364.8 173.6H369.4M364.8 185.5H369.4M364.9 176.4L369.4 182.8M364.9 182.8L369.4 176.4M369.9 169.2V181.5M367.6 169.2H372.2M367.6 181.5H372.2M367.6 172.2L372.1 178.6M367.6 178.6L372.1 172.2M372.6 167.9V180.6M370.3 167.9H374.9M370.3 180.6H374.9M370.4 171.1L374.9 177.5M370.4 177.5L374.9 171.1M374.0 167.7V180.6M371.7 167.7H376.3M371.7 180.6H376.3M371.7 170.9L376.2 177.3M371.7 177.3L376.2 170.9M375.3 164.9V177.9M373.0 164.9H377.6M373.0 177.9H377.6M373.1 168.2L377.6 174.6M373.1 174.6L377.6 168.2M383.3 154.2V165.6M381.0 154.2H385.6M381.0 165.6H385.6M381.1 156.7L385.6 163.1M381.1 163.1L385.6 156.7M387.2 155.0V170.0M384.9 155.0H389.5M384.9 170.0H389.5M384.9 159.3L389.4 165.7M384.9 165.7L389.4 159.3M390.0 154.7V166.7M387.7 154.7H392.3M387.7 166.7H392.3M387.8 157.5L392.2 163.9M387.8 163.9L392.2 157.5M395.1 148.7V161.5M392.8 148.7H397.4M392.8 161.5H397.4M392.9 151.9L397.4 158.3M392.9 158.3L397.4 151.9M406.4 142.6V159.4M404.1 142.6H408.7M404.1 159.4H408.7M404.1 147.8L408.6 154.2M404.1 154.2L408.6 147.8M408.8 138.8V155.4M406.5 138.8H411.1M406.5 155.4H411.1M406.6 143.9L411.1 150.3M406.6 150.3L411.1 143.9M424.5 130.6V150.6M422.2 130.6H426.8M422.2 150.6H426.8M422.2 137.4L426.8 143.8M422.2 143.8L426.8 137.4M442.2 106.2V140.0M439.9 106.2H444.5M439.9 140.0H444.5M439.9 119.9L444.4 126.3M439.9 126.3L444.4 119.9M446.5 116.8V150.0M444.2 116.8H448.8M444.2 150.0H448.8M444.2 130.2L448.8 136.6M444.2 136.6L448.8 130.2M478.3 89.5V140.9M476.0 89.5H480.6M476.0 140.9H480.6M476.1 112.0L480.6 118.4M476.1 118.4L480.6 112.0M509.9 100.4V147.8M507.6 100.4H512.2M507.6 147.8H512.2M507.6 120.9L512.1 127.3M507.6 127.3L512.1 120.9" fill="none" stroke="#00ff00" stroke-width="0.7"/>
<path d="M34.5 492.3V492.6M32.2 492.3H36.8M32.2 492.6H36.8M32.2 492.5H36.7M34.5 489.3V495.7M32.2 489.3L36.7 495.7M32.2 495.7L36.7 489.3M47.6 459.8V460.1M45.3 459.8H49.9M45.3 460.1H49.9M45.4 460.0H49.9M47.6 456.8V463.2M45.4 456.8L49.9 463.2M45.4 463.2L49.9 456.8M57.7 443.1V443.4M55.4 443.1H60.0M55.4 443.4H60.0M55.5 443.2H60.0M57.7 440.0V446.4M55.5 440.0L60.0 446.4M55.5 446.4L60.0 440.0M66.2 435.9V436.2M63.9 435.9H68.5M63.9 436.2H68.5M64.0 436.1H68.5M66.2 432.9V439.3M64.0 432.9L68.5 439.3M64.0 439.3L68.5 432.9M73.7 423.5V423.8M71.4 423.5H76.0M71.4 423.8H76.0M71.4 423.6H75.9M73.7 420.4V426.8M71.4 420.4L75.9 426.8M71.4 426.8L75.9 420.4M80.5 416.8V417.1M78.2 416.8H82.8M78.2 417.1H82.8M78.2 416.9H82.7M80.5 413.7V420.1M78.2 413.7L82.7 420.1M78.2 420.1L82.7 413.7M92.5 404.5V404.8M90.2 404.5H94.8M90.2 404.8H94.8M90.2 404.7H94.7M92.5 401.5V407.9M90.2 401.5L94.7 407.9M90.2 407.9L94.7 401.5M97.9 399.4V399.7M95.6 399.4H100.2M95.6 399.7H100.2M95.7 399.6H100.2M97.9 396.4V402.8M95.7 396.4L100.2 402.8M95.7 402.8L100.2 396.4M103.1 394.7V395.0M100.8 394.7H105.4M100.8 395.0H105.4M100.8 394.8H105.3M103.1 391.6V398.0M100.8 391.6L105.3 398.0M100.8 398.0L105.3 391.6M108.0 390.2V390.6M105.7 390.2H110.3M105.7 390.6H110.3M105.7 390.4H110.2M108.0 387.2V393.6M105.7 387.2L110.2 393.6M105.7 393.6L110.2 387.2M112.6 386.1V386.4M110.3 386.1H114.9M110.3 386.4H114.9M110.4 386.3H114.9M112.6 383.1V389.5M110.4 383.1L114.9 389.5M110.4 389.5L114.9 383.1M117.1 382.2V382.5M114.8 382.2H119.4M114.8 382.5H119.4M114.9 382.3H119.4M117.1 379.1V385.5M114.9 379.1L119.4 385.5M114.9 385.5L119.4 379.1M121.4 378.8V379.2M119.1 378.8H123.7M119.1 379.2H123.7M119.2 379.0H123.7M121.4 375.8V382.2M119.2 375.8L123.7 382.2M119.2 382.2L123.7 375.8M129.6 372.7V373.1M127.3 372.7H131.9M127.3 373.1H131.9M127.4 372.9H131.9M129.6 369.7V376.1M127.4 369.7L131.9 376.1M127.4 376.1L131.9 369.7M133.5 369.7V370.1M131.2 369.7H135.8M131.2 370.1H135.8M131.3 369.9H135.8M133.5 366.7V373.1M131.3 366.7L135.8 373.1M131.3 373.1L135.8 366.7M137.3 366.8V367.2M135.0 366.8H139.6M135.0 367.2H139.6M135.1 367.0H139.6M137.3 363.8V370.2M135.1 363.8L139.6 370.2M135.1 370.2L139.6 363.8M141.0 364.0V364.4M138.7 364.0H143.3M138.7 364.4H143.3M138.8 364.2H143.3M141.0 361.0V367.4M138.8 361.0L143.3 367.4M138.8 367.4L143.3 361.0M144.6 361.3V361.7M142.3 361.3H146.9M142.3 361.7H146.9M142.4 361.5H146.9M144.6 358.3V364.7M142.4 358.3L146.9 364.7M142.4 364.7L146.9 358.3M148.1 358.7V359.2M145.8 358.7H150.4M145.8 359.2H150.4M145.9 358.9H150.4M148.1 355.7V362.1M145.9 355.7L150.4 362.1M145.9 362.1L150.4 355.7M151.5 356.2V356.7M149.2 356.2H153.8M149.2 356.7H153.8M149.3 356.5H153.8M151.5 353.3V359.7M149.3 353.3L153.8 359.7M149.3 359.7L153.8 353.3M158.1 351.5V352.0M155.8 351.5H160.4M155.8 352.0H160.4M155.9 351.7H160.4M158.1 348.5V354.9M155.9 348.5L160.4 354.9M155.9 354.9L160.4 348.5M161.3 349.1V349.6M159.0 349.1H163.6M159.0 349.6H163.6M159.1 349.3H163.6M161.3 346.1V352.5M159.1 346.1L163.6 352.5M159.1 352.5L163.6 346.1M164.5 346.7V347.3M162.2 346.7H166.8M162.2 347.3H166.8M162.2 347.0H166.7M164.5 343.8V350.2M162.2 343.8L166.7 350.2M162.2 350.2L166.7 343.8M167.6 344.5V345.0M165.3 344.5H169.9M165.3 345.0H169.9M165.3 344.7H169.8M167.6 341.5V347.9M165.3 341.5L169.8 347.9M165.3 347.9L169.8 341.5M173.6 340.1V340.7M171.3 340.1H175.9M171.3 340.7H175.9M171.3 340.4H175.8M173.6 337.2V343.6M171.3 337.2L175.8 343.6M171.3 343.6L175.8 337.2M176.5 338.0V338.6M174.2 338.0H178.8M174.2 338.6H178.8M174.2 338.3H178.7M176.5 335.1V341.5M174.2 335.1L178.7 341.5M174.2 341.5L178.7 335.1M182.2 334.0V334.6M179.9 334.0H184.5M179.9 334.6H184.5M179.9 334.3H184.4M182.2 331.1V337.5M179.9 331.1L184.4 337.5M179.9 337.5L184.4 331.1M185.0 332.0V332.7M182.7 332.0H187.3M182.7 332.7H187.3M182.7 332.3H187.2M185.0 329.1V335.5M182.7 329.1L187.2 335.5M182.7 335.5L187.2 329.1M187.7 330.1V330.8M185.4 330.1H190.0M185.4 330.8H190.0M185.4 330.4H189.9M187.7 327.2V333.6M185.4 327.2L189.9 333.6M185.4 333.6L189.9 327.2M190.4 328.2V328.9M188.1 328.2H192.7M188.1 328.9H192.7M188.1 328.6H192.6M190.4 325.4V331.8M188.1 325.4L192.6 331.8M188.1 331.8L192.6 325.4M193.1 326.4V327.1M190.8 326.4H195.4M190.8 327.1H195.4M190.8 326.8H195.3M193.1 323.6V330.0M190.8 323.6L195.3 330.0M190.8 330.0L195.3 323.6M195.7 324.6V325.3M193.4 324.6H198.0M193.4 325.3H198.0M193.4 325.0H197.9M195.7 321.8V328.2M193.4 321.8L197.9 328.2M193.4 328.2L197.9 321.8M198.3 322.8V323.6M196.0 322.8H200.6M196.0 323.6H200.6M196.0 323.2H200.5M198.3 320.0V326.4M196.0 320.0L200.5 326.4M196.0 326.4L200.5 320.0M203.4 319.3V320.1M201.1 319.3H205.7M201.1 320.1H205.7M201.1 319.7H205.6M203.4 316.5V322.9M201.1 316.5L205.6 322.9M201.1 322.9L205.6 316.5M205.8 317.6V318.4M203.5 317.6H208.1M203.5 318.4H208.1M203.6 318.0H208.1M205.8 314.8V321.2M203.6 314.8L208.1 321.2M203.6 321.2L208.1 314.8M208.3 315.9V316.7M206.0 315.9H210.6M206.0 316.7H210.6M206.1 316.3H210.6M208.3 313.1V319.5M206.1 313.1L210.6 319.5M206.1 319.5L210.6 313.1M210.7 314.2V315.0M208.4 314.2H213.0M208.4 315.0H213.0M208.5 314.6H213.0M210.7 311.4V317.8M208.5 311.4L213.0 317.8M208.5 317.8L213.0 311.4M213.1 312.6V313.4M210.8 312.6H215.4M210.8 313.4H215.4M210.9 313.0H215.4M213.1 309.8V316.2M210.9 309.8L215.4 316.2M210.9 316.2L215.4 309.8M215.5 311.0V311.8M213.2 311.0H217.8M213.2 311.8H217.8M213.3 311.4H217.8M215.5 308.2V314.6M213.3 308.2L217.8 314.6M213.3 314.6L217.8 308.2M217.9 309.4V310.3M215.6 309.4H220.2M215.6 310.3H220.2M215.6 309.8H220.1M217.9 306.6V313.0M215.6 306.6L220.1 313.0M215.6 313.0L220.1 306.6M222.5 306.3V307.2M220.2 306.3H224.8M220.2 307.2H224.8M220.2 306.8H224.7M222.5 303.6V310.0M220.2 303.6L224.7 310.0M220.2 310.0L224.7 303.6M224.8 304.8V305.7M222.5 304.8H227.1M222.5 305.7H227.1M222.5 305.3H227.0M224.8 302.1V308.5M222.5 302.1L227.0 308.5M222.5 308.5L227.0 302.1M227.0 303.3V304.3M224.7 303.3H229.3M224.7 304.3H229.3M224.8 303.8H229.3M227.0 300.6V307.0M224.8 300.6L229.3 307.0M224.8 307.0L229.3 300.6M229.3 301.9V302.8M227.0 301.9H231.6M227.0 302.8H231.6M227.0 302.3H231.5M229.3 299.1V305.5M227.0 299.1L231.5 305.5M227.0 305.5L231.5 299.1M231.5 300.4V301.4M229.2 300.4H233.8M229.2 301.4H233.8M229.2 300.9H233.7M231.5 297.7V304.1M229.2 297.7L233.7 304.1M229.2 304.1L233.7 297.7M233.7 299.0V300.0M231.4 299.0H236.0M231.4 300.0H236.0M231.4 299.5H235.9M233.7 296.3V302.7M231.4 296.3L235.9 302.7M231.4 302.7L235.9 296.3M235.8 297.7V298.7M233.5 297.7H238.1M233.5 298.7H238.1M233.6 298.2H238.1M235.8 295.0V301.4M233.6 295.0L238.1 301.4M233.6 301.4L238.1 295.0M240.1 295.2V296.2M237.8 295.2H242.4M237.8 296.2H242.4M237.9 295.7H242.4M240.1 292.5V298.9M237.9 292.5L242.4 298.9M237.9 298.9L242.4 292.5M242.2 293.9V295.0M239.9 293.9H244.5M239.9 295.0H244.5M240.0 294.4H244.5M242.2 291.2V297.6M240.0 291.2L244.5 297.6M240.0 297.6L244.5 291.2M244.3 292.7V293.8M242.0 292.7H246.6M242.0 293.8H246.6M242.1 293.2H246.6M244.3 290.0V296.4M242.1 290.0L246.6 296.4M242.1 296.4L246.6 290.0M246.4 291.4V292.5M244.1 291.4H248.7M244.1 292.5H248.7M244.1 292.0H248.6M246.4 288.8V295.2M244.1 288.8L248.6 295.2M244.1 295.2L248.6 288.8M250.5 289.1V290.2M248.2 289.1H252.8M248.2 290.2H252.8M248.2 289.6H252.7M250.5 286.4V292.8M248.2 286.4L252.7 292.8M248.2 292.8L252.7 286.4M252.5 287.9V289.1M250.2 287.9H254.8M250.2 289.1H254.8M250.2 288.5H254.7M252.5 285.3V291.7M250.2 285.3L254.7 291.7M250.2 291.7L254.7 285.3M256.5 285.5V286.7M254.2 285.5H258.8M254.2 286.7H258.8M254.2 286.1H258.7M256.5 282.9V289.3M254.2 282.9L258.7 289.3M254.2 289.3L258.7 282.9M258.5 284.4V285.7M256.2 284.4H260.8M256.2 285.7H260.8M256.2 285.0H260.7M258.5 281.8V288.2M256.2 281.8L260.7 288.2M256.2 288.2L260.7 281.8M260.4 283.3V284.6M258.1 283.3H262.7M258.1 284.6H262.7M258.2 284.0H262.7M260.4 280.8V287.2M258.2 280.8L262.7 287.2M258.2 287.2L262.7 280.8M262.4 282.2V283.5M260.1 282.2H264.7M260.1 283.5H264.7M260.1 282.8H264.6M262.4 279.6V286.0M260.1 279.6L264.6 286.0M260.1 286.0L264.6 279.6M264.3 281.1V282.4M262.0 281.1H266.6M262.0 282.4H266.6M262.0 281.7H266.5M264.3 278.5V284.9M262.0 278.5L266.5 284.9M262.0 284.9L266.5 278.5M266.2 280.0V281.3M263.9 280.0H268.5M263.9 281.3H268.5M264.0 280.6H268.5M266.2 277.4V283.8M264.0 277.4L268.5 283.8M264.0 283.8L268.5 277.4M268.1 278.7V280.1M265.8 278.7H270.4M265.8 280.1H270.4M265.9 279.4H270.4M268.1 276.2V282.6M265.9 276.2L270.4 282.6M265.9 282.6L270.4 276.2M271.9 276.5V277.9M269.6 276.5H274.2M269.6 277.9H274.2M269.6 277.2H274.1M271.9 274.0V280.4M269.6 274.0L274.1 280.4M269.6 280.4L274.1 274.0M273.7 275.4V276.9M271.4 275.4H276.0M271.4 276.9H276.0M271.5 276.1H276.0M273.7 272.9V279.3M271.5 272.9L276.0 279.3M271.5 279.3L276.0 272.9M275.6 274.3V275.8M273.3 274.3H277.9M273.3 275.8H277.9M273.3 275.1H277.8M275.6 271.9V278.3M273.3 271.9L277.8 278.3M273.3 278.3L277.8 271.9M277.4 273.2V274.7M275.1 273.2H279.7M275.1 274.7H279.7M275.2 273.9H279.7M277.4 270.7V277.1M275.2 270.7L279.7 277.1M275.2 277.1L279.7 270.7M279.3 272.1V273.7M277.0 272.1H281.6M277.0 273.7H281.6M277.0 272.9H281.5M279.3 269.7V276.1M277.0 269.7L281.5 276.1M277.0 276.1L281.5 269.7M281.1 270.9V272.6M278.8 270.9H283.4M278.8 272.6H283.4M278.8 271.7H283.3M281.1 268.5V274.9M278.8 268.5L283.3 274.9M278.8 274.9L283.3 268.5M282.9 269.9V271.6M280.6 269.9H285.2M280.6 271.6H285.2M280.6 270.7H285.1M282.9 267.5V273.9M280.6 267.5L285.1 273.9M280.6 273.9L285.1 267.5M286.4 267.9V269.6M284.1 267.9H288.7M284.1 269.6H288.7M284.2 268.8H288.7M286.4 265.6V272.0M284.2 265.6L288.7 272.0M284.2 272.0L288.7 265.6M288.2 266.8V268.6M285.9 266.8H290.5M285.9 268.6H290.5M286.0 267.7H290.5M288.2 264.5V270.9M286.0 264.5L290.5 270.9M286.0 270.9L290.5 264.5M290.0 265.7V267.5M287.7 265.7H292.3M287.7 267.5H292.3M287.7 266.6H292.2M290.0 263.4V269.8M287.7 263.4L292.2 269.8M287.7 269.8L292.2 263.4M291.7 264.7V266.5M289.4 264.7H294.0M289.4 266.5H294.0M289.5 265.6H294.0M291.7 262.4V268.8M289.5 262.4L294.0 268.8M289.5 268.8L294.0 262.4M293.4 264.0V265.8M291.1 264.0H295.7M291.1 265.8H295.7M291.2 264.9H295.7M293.4 261.7V268.1M291.2 261.7L295.7 268.1M291.2 268.1L295.7 261.7M295.2 262.8V264.7M292.9 262.8H297.5M292.9 264.7H297.5M292.9 263.8H297.4M295.2 260.6V267.0M292.9 260.6L297.4 267.0M292.9 267.0L297.4 260.6M296.9 261.8V263.8M294.6 261.8H299.2M294.6 263.8H299.2M294.6 262.8H299.1M296.9 259.6V266.0M294.6 259.6L299.1 266.0M294.6 266.0L299.1 259.6M300.3 259.6V261.6M298.0 259.6H302.6M298.0 261.6H302.6M298.0 260.6H302.5M300.3 257.4V263.8M298.0 257.4L302.5 263.8M298.0 263.8L302.5 257.4M302.0 259.0V261.1M299.7 259.0H304.3M299.7 261.1H304.3M299.7 260.0H304.2M302.0 256.8V263.2M299.7 256.8L304.2 263.2M299.7 263.2L304.2 256.8M303.6 258.1V260.2M301.3 258.1H305.9M301.3 260.2H305.9M301.4 259.1H305.9M303.6 255.9V262.3M301.4 255.9L305.9 262.3M301.4 262.3L305.9 255.9M308.6 255.5V257.7M306.3 255.5H310.9M306.3 257.7H310.9M306.4 256.6H310.9M308.6 253.4V259.8M306.4 253.4L310.9 259.8M306.4 259.8L310.9 253.4M310.3 254.4V256.7M308.0 254.4H312.6M308.0 256.7H312.6M308.0 255.6H312.5M310.3 252.4V258.8M308.0 252.4L312.5 258.8M308.0 258.8L312.5 252.4M313.5 252.6V255.0M311.2 252.6H315.8M311.2 255.0H315.8M311.3 253.8H315.8M313.5 250.6V257.0M311.3 250.6L315.8 257.0M311.3 257.0L315.8 250.6M315.1 251.8V254.2M312.8 251.8H317.4M312.8 254.2H317.4M312.9 253.0H317.4M315.1 249.8V256.2M312.9 249.8L317.4 256.2M312.9 256.2L317.4 249.8M316.7 250.5V253.0M314.4 250.5H319.0M314.4 253.0H319.0M314.5 251.8H319.0M316.7 248.6V255.0M314.5 248.6L319.0 255.0M314.5 255.0L319.0 248.6M318.3 250.1V252.7M316.0 250.1H320.6M316.0 252.7H320.6M316.1 251.4H320.6M318.3 248.2V254.6M316.1 248.2L320.6 254.6M316.1 254.6L320.6 248.2M319.9 249.1V251.7M317.6 249.1H322.2M317.6 251.7H322.2M317.7 250.4H322.2M319.9 247.2V253.6M317.7 247.2L322.2 253.6M317.7 253.6L322.2 247.2M321.5 248.1V250.8M319.2 248.1H323.8M319.2 250.8H323.8M319.3 249.5H323.8M321.5 246.3V252.7M319.3 246.3L323.8 252.7M319.3 252.7L323.8 246.3M323.1 247.6V250.3M320.8 247.6H325.4M320.8 250.3H325.4M320.8 249.0H325.3M323.1 245.8V252.2M320.8 245.8L325.3 252.2M320.8 252.2L325.3 245.8M326.2 246.0V248.8M323.9 246.0H328.5M323.9 248.8H328.5M324.0 247.4H328.5M326.2 244.2V250.6M324.0 244.2L328.5 250.6M324.0 250.6L328.5 244.2M327.8 244.6V247.5M325.5 244.6H330.1M325.5 247.5H330.1M325.5 246.0H330.0M327.8 242.8V249.2M325.5 242.8L330.0 249.2M325.5 249.2L330.0 242.8M330.8 243.1V246.1M328.5 243.1H333.1M328.5 246.1H333.1M328.6 244.6H333.1M330.8 241.4V247.8M328.6 241.4L333.1 247.8M328.6 247.8L333.1 241.4M332.4 242.5V245.5M330.1 242.5H334.7M330.1 245.5H334.7M330.1 244.0H334.6M332.4 240.8V247.2M330.1 240.8L334.6 247.2M330.1 247.2L334.6 240.8M333.9 241.6V244.7M331.6 241.6H336.2M331.6 244.7H336.2M331.6 243.2H336.1M333.9 240.0V246.4M331.6 240.0L336.1 246.4M331.6 246.4L336.1 240.0M335.4 240.7V243.8M333.1 240.7H337.7M333.1 243.8H337.7M333.1 242.3H337.6M335.4 239.1V245.5M333.1 239.1L337.6 245.5M333.1 245.5L337.6 239.1M339.9 238.2V241.5M337.6 238.2H342.2M337.6 241.5H342.2M337.7 239.8H342.2M339.9 236.6V243.0M337.7 236.6L342.2 243.0M337.7 243.0L342.2 236.6M341.4 238.1V241.5M339.1 238.1H343.7M339.1 241.5H343.7M339.1 239.8H343.6M341.4 236.6V243.0M339.1 236.6L343.6 243.0M339.1 243.0L343.6 236.6M344.4 236.3V239.8M342.1 236.3H346.7M342.1 239.8H346.7M342.1 238.0H346.6M344.4 234.8V241.2M342.1 234.8L346.6 241.2M342.1 241.2L346.6 234.8M345.8 235.0V238.5M343.5 235.0H348.1M343.5 238.5H348.1M343.6 236.7H348.1M345.8 233.5V239.9M343.6 233.5L348.1 239.9M343.6 239.9L348.1 233.5M351.6 231.7V235.5M349.3 231.7H353.9M349.3 235.5H353.9M349.4 233.6H353.9M351.6 230.4V236.8M349.4 230.4L353.9 236.8M349.4 236.8L353.9 230.4M353.1 231.8V235.6M350.8 231.8H355.4M350.8 235.6H355.4M350.8 233.7H355.3M353.1 230.5V236.9M350.8 230.5L355.3 236.9M350.8 236.9L355.3 230.5M354.5 230.8V234.7M352.2 230.8H356.8M352.2 234.7H356.8M352.3 232.7H356.8M354.5 229.5V235.9M352.3 229.5L356.8 235.9M352.3 235.9L356.8 229.5M357.4 229.5V233.5M355.1 229.5H359.7M355.1 233.5H359.7M355.1 231.5H359.6M357.4 228.3V234.7M355.1 228.3L359.6 234.7M355.1 234.7L359.6 228.3M361.6 226.8V231.1M359.3 226.8H363.9M359.3 231.1H363.9M359.3 228.9H363.8M361.6 225.7V232.1M359.3 225.7L363.8 232.1M359.3 232.1L363.8 225.7M363.0 225.5V229.8M360.7 225.5H365.3M360.7 229.8H365.3M360.7 227.6H365.2M363.0 224.4V230.8M360.7 224.4L365.2 230.8M360.7 230.8L365.2 224.4M367.1 223.5V228.1M364.8 223.5H369.4M364.8 228.1H369.4M364.9 225.8H369.4M367.1 222.6V229.0M364.9 222.6L369.4 229.0M364.9 229.0L369.4 222.6M369.9 221.1V225.8M367.6 221.1H372.2M367.6 225.8H372.2M367.6 223.5H372.1M369.9 220.3V226.7M367.6 220.3L372.1 226.7M367.6 226.7L372.1 220.3M372.6 220.1V225.0M370.3 220.1H374.9M370.3 225.0H374.9M370.4 222.5H374.9M372.6 219.3V225.7M370.4 219.3L374.9 225.7M370.4 225.7L374.9 219.3M374.0 219.6V224.6M371.7 219.6H376.3M371.7 224.6H376.3M371.7 222.1H376.2M374.0 218.9V225.3M371.7 218.9L376.2 225.3M371.7 225.3L376.2 218.9M375.3 219.1V224.1M373.0 219.1H377.6M373.0 224.1H377.6M373.1 221.6H377.6M375.3 218.4V224.8M373.1 218.4L377.6 224.8M373.1 224.8L377.6 218.4M383.3 213.8V219.8M381.0 213.8H385.6M381.0 219.8H385.6M381.1 216.8H385.6M383.3 213.6V220.0M381.1 213.6L385.6 220.0M381.1 220.0L385.6 213.6M387.2 212.9V218.9M384.9 212.9H389.5M384.9 218.9H389.5M384.9 215.9H389.4M387.2 212.7V219.1M384.9 212.7L389.4 219.1M384.9 219.1L389.4 212.7M390.0 212.1V218.1M387.7 212.1H392.3M387.7 218.1H392.3M387.8 215.1H392.2M390.0 211.9V218.3M387.8 211.9L392.2 218.3M387.8 218.3L392.2 211.9M395.1 208.2V216.8M392.8 208.2H397.4M392.8 216.8H397.4M392.9 212.5H397.4M395.1 209.3V215.7M392.9 209.3L397.4 215.7M392.9 215.7L397.4 209.3M406.4 201.7V209.7M404.1 201.7H408.7M404.1 209.7H408.7M404.1 205.7H408.6M406.4 202.5V208.9M404.1 202.5L408.6 208.9M404.1 208.9L408.6 202.5M408.8 200.0V208.0M406.5 200.0H411.1M406.5 208.0H411.1M406.6 204.0H411.1M408.8 200.8V207.2M406.6 200.8L411.1 207.2M406.6 207.2L411.1 200.8M424.5 190.1V201.3M422.2 190.1H426.8M422.2 201.3H426.8M422.2 195.7H426.8M424.5 192.5V198.9M422.2 192.5L426.8 198.9M422.2 198.9L426.8 192.5M442.2 180.0V193.0M439.9 180.0H444.5M439.9 193.0H444.5M439.9 186.5H444.4M442.2 183.3V189.7M439.9 183.3L444.4 189.7M439.9 189.7L444.4 183.3M446.5 191.2V205.8M444.2 191.2H448.8M444.2 205.8H448.8M444.2 198.5H448.8M446.5 195.3V201.7M444.2 195.3L448.8 201.7M444.2 201.7L448.8 195.3M478.3 183.3V200.1M476.0 183.3H480.6M476.0 200.1H480.6M476.1 191.7H480.6M478.3 188.5V194.9M476.1 188.5L480.6 194.9M476.1 194.9L480.6 188.5M509.9 177.9V196.7M507.6 177.9H512.2M507.6 196.7H512.2M507.6 187.3H512.1M509.9 184.1V190.5M507.6 184.1L512.1 190.5M507.6 190.5L512.1 184.1" fill="none" stroke="#0000ff" stroke-width="0.7"/>
<path d="M34.5 493.3V493.6M32.2 493.3H36.8M32.2 493.6H36.8M32.0 489.8H37.0V497.0H32.0ZM47.6 462.2V462.5M45.3 462.2H49.9M45.3 462.5H49.9M45.1 458.8H50.1V466.0H45.1ZM57.7 445.9V446.2M55.4 445.9H60.0M55.4 446.2H60.0M55.2 442.5H60.2V449.7H55.2ZM66.2 439.2V439.5M63.9 439.2H68.5M63.9 439.5H68.5M63.7 435.8H68.7V443.0H63.7ZM73.7 427.8V428.1M71.4 427.8H76.0M71.4 428.1H76.0M71.2 424.3H76.2V431.5H71.2ZM80.5 421.1V421.4M78.2 421.1H82.8M78.2 421.4H82.8M78.0 417.6H83.0V424.8H78.0ZM92.5 409.3V409.6M90.2 409.3H94.8M90.2 409.6H94.8M90.0 405.9H95.0V413.1H90.0ZM97.9 404.5V404.8M95.6 404.5H100.2M95.6 404.8H100.2M95.4 401.1H100.4V408.3H95.4ZM103.1 400.1V400.4M100.8 400.1H105.4M100.8 400.4H105.4M100.6 396.6H105.6V403.8H100.6ZM108.0 396.0V396.3M105.7 396.0H110.3M105.7 396.3H110.3M105.5 392.5H110.5V399.7H105.5ZM112.6 392.1V392.5M110.3 392.1H114.9M110.3 392.5H114.9M110.1 388.7H115.1V395.9H110.1ZM117.1 388.5V388.9M114.8 388.5H119.4M114.8 388.9H119.4M114.6 385.1H119.6V392.3H114.6ZM121.4 385.5V385.8M119.1 385.5H123.7M119.1 385.8H123.7M118.9 382.0H123.9V389.2H118.9ZM129.6 380.0V380.4M127.3 380.0H131.9M127.3 380.4H131.9M127.1 376.6H132.1V383.8H127.1ZM133.5 377.2V377.7M131.2 377.2H135.8M131.2 377.7H135.8M131.0 373.9H136.0V381.1H131.0ZM137.3 374.6V375.0M135.0 374.6H139.6M135.0 375.0H139.6M134.8 371.2H139.8V378.4H134.8ZM141.0 372.1V372.5M138.7 372.1H143.3M138.7 372.5H143.3M138.5 368.7H143.5V375.9H138.5ZM144.6 369.7V370.1M142.3 369.7H146.9M142.3 370.1H146.9M142.1 366.3H147.1V373.5H142.1ZM148.1 367.4V367.8M145.8 367.4H150.4M145.8 367.8H150.4M145.6 364.0H150.6V371.2H145.6ZM151.5 365.1V365.6M149.2 365.1H153.8M149.2 365.6H153.8M149.0 361.7H154.0V368.9H149.0ZM158.1 360.8V361.3M155.8 360.8H160.4M155.8 361.3H160.4M155.6 357.5H160.6V364.7H155.6ZM161.3 358.6V359.1M159.0 358.6H163.6M159.0 359.1H163.6M158.8 355.3H163.8V362.5H158.8ZM164.5 356.5V357.0M162.2 356.5H166.8M162.2 357.0H166.8M162.0 353.2H167.0V360.4H162.0ZM167.6 354.5V355.0M165.3 354.5H169.9M165.3 355.0H169.9M165.1 351.1H170.1V358.3H165.1ZM173.6 350.5V351.0M171.3 350.5H175.9M171.3 351.0H175.9M171.1 347.2H176.1V354.4H171.1ZM176.5 348.6V349.1M174.2 348.6H178.8M174.2 349.1H178.8M174.0 345.3H179.0V352.5H174.0ZM182.2 344.9V345.5M179.9 344.9H184.5M179.9 345.5H184.5M179.7 341.6H184.7V348.8H179.7ZM185.0 343.1V343.7M182.7 343.1H187.3M182.7 343.7H187.3M182.5 339.8H187.5V347.0H182.5ZM187.7 341.4V342.0M185.4 341.4H190.0M185.4 342.0H190.0M185.2 338.1H190.2V345.3H185.2ZM190.4 339.7V340.3M188.1 339.7H192.7M188.1 340.3H192.7M187.9 336.4H192.9V343.6H187.9ZM193.1 338.0V338.6M190.8 338.0H195.4M190.8 338.6H195.4M190.6 334.7H195.6V341.9H190.6ZM195.7 336.4V337.0M193.4 336.4H198.0M193.4 337.0H198.0M193.2 333.1H198.2V340.3H193.2ZM198.3 334.7V335.4M196.0 334.7H200.6M196.0 335.4H200.6M195.8 331.5H200.8V338.7H195.8ZM203.4 331.6V332.3M201.1 331.6H205.7M201.1 332.3H205.7M200.9 328.4H205.9V335.6H200.9ZM205.8 330.1V330.8M203.5 330.1H208.1M203.5 330.8H208.1M203.3 326.9H208.3V334.1H203.3ZM208.3 328.6V329.3M206.0 328.6H210.6M206.0 329.3H210.6M205.8 325.4H210.8V332.6H205.8ZM210.7 327.2V327.9M208.4 327.2H213.0M208.4 327.9H213.0M208.2 323.9H213.2V331.1H208.2ZM213.1 325.7V326.5M210.8 325.7H215.4M210.8 326.5H215.4M210.6 322.5H215.6V329.7H210.6ZM215.5 324.3V325.1M213.2 324.3H217.8M213.2 325.1H217.8M213.0 321.1H218.0V328.3H213.0ZM217.9 322.9V323.7M215.6 322.9H220.2M215.6 323.7H220.2M215.4 319.7H220.4V326.9H215.4ZM222.5 320.2V321.0M220.2 320.2H224.8M220.2 321.0H224.8M220.0 317.0H225.0V324.2H220.0ZM224.8 318.9V319.7M222.5 318.9H227.1M222.5 319.7H227.1M222.3 315.7H227.3V322.9H222.3ZM227.0 317.6V318.4M224.7 317.6H229.3M224.7 318.4H229.3M224.5 314.4H229.5V321.6H224.5ZM229.3 316.3V317.1M227.0 316.3H231.6M227.0 317.1H231.6M226.8 313.1H231.8V320.3H226.8ZM231.5 315.0V315.8M229.2 315.0H233.8M229.2 315.8H233.8M229.0 311.8H234.0V319.0H229.0ZM233.7 313.7V314.6M231.4 313.7H236.0M231.4 314.6H236.0M231.2 310.5H236.2V317.7H231.2ZM235.8 312.4V313.3M233.5 312.4H238.1M233.5 313.3H238.1M233.3 309.2H238.3V316.4H233.3ZM240.1 309.9V310.8M237.8 309.9H242.4M237.8 310.8H242.4M237.6 306.7H242.6V313.9H237.6ZM242.2 308.6V309.5M239.9 308.6H244.5M239.9 309.5H244.5M239.7 305.5H244.7V312.7H239.7ZM244.3 307.4V308.3M242.0 307.4H246.6M242.0 308.3H246.6M241.8 304.3H246.8V311.5H241.8ZM246.4 306.2V307.1M244.1 306.2H248.7M244.1 307.1H248.7M243.9 303.1H248.9V310.3H243.9ZM250.5 303.8V304.8M248.2 303.8H252.8M248.2 304.8H252.8M248.0 300.7H253.0V307.9H248.0ZM252.5 302.6V303.6M250.2 302.6H254.8M250.2 303.6H254.8M250.0 299.5H255.0V306.7H250.0ZM256.5 300.3V301.3M254.2 300.3H258.8M254.2 301.3H258.8M254.0 297.2H259.0V304.4H254.0ZM258.5 299.2V300.2M256.2 299.2H260.8M256.2 300.2H260.8M256.0 296.1H261.0V303.3H256.0ZM260.4 298.1V299.1M258.1 298.1H262.7M258.1 299.1H262.7M257.9 295.0H262.9V302.2H257.9ZM262.4 296.9V298.0M260.1 296.9H264.7M260.1 298.0H264.7M259.9 293.9H264.9V301.1H259.9ZM264.3 295.8V296.9M262.0 295.8H266.6M262.0 296.9H266.6M261.8 292.8H266.8V300.0H261.8ZM266.2 294.8V295.9M263.9 294.8H268.5M263.9 295.9H268.5M263.7 291.7H268.7V298.9H263.7ZM268.1 293.8V295.0M265.8 293.8H270.4M265.8 295.0H270.4M265.6 290.8H270.6V298.0H265.6ZM271.9 291.8V293.0M269.6 291.8H274.2M269.6 293.0H274.2M269.4 288.8H274.4V296.0H269.4ZM273.7 290.8V292.0M271.4 290.8H276.0M271.4 292.0H276.0M271.2 287.8H276.2V295.0H271.2ZM275.6 289.8V291.1M273.3 289.8H277.9M273.3 291.1H277.9M273.1 286.8H278.1V294.0H273.1ZM277.4 288.9V290.2M275.1 288.9H279.7M275.1 290.2H279.7M274.9 286.0H279.9V293.2H274.9ZM279.3 287.9V289.2M277.0 287.9H281.6M277.0 289.2H281.6M276.8 284.9H281.8V292.1H276.8ZM281.1 287.0V288.3M278.8 287.0H283.4M278.8 288.3H283.4M278.6 284.0H283.6V291.2H278.6ZM282.9 286.0V287.4M280.6 286.0H285.2M280.6 287.4H285.2M280.4 283.1H285.4V290.3H280.4ZM286.4 284.1V285.6M284.1 284.1H288.7M284.1 285.6H288.7M283.9 281.3H288.9V288.5H283.9ZM288.2 283.2V284.7M285.9 283.2H290.5M285.9 284.7H290.5M285.7 280.3H290.7V287.5H285.7ZM290.0 282.3V283.8M287.7 282.3H292.3M287.7 283.8H292.3M287.5 279.5H292.5V286.7H287.5ZM291.7 281.4V283.0M289.4 281.4H294.0M289.4 283.0H294.0M289.2 278.6H294.2V285.8H289.2ZM293.4 280.6V282.1M291.1 280.6H295.7M291.1 282.1H295.7M290.9 277.8H295.9V285.0H290.9ZM295.2 279.6V281.3M292.9 279.6H297.5M292.9 281.3H297.5M292.7 276.9H297.7V284.1H292.7ZM296.9 278.6V280.2M294.6 278.6H299.2M294.6 280.2H299.2M294.4 275.8H299.4V283.0H294.4ZM300.3 276.6V278.3M298.0 276.6H302.6M298.0 278.3H302.6M297.8 273.8H302.8V281.0H297.8ZM302.0 275.6V277.3M299.7 275.6H304.3M299.7 277.3H304.3M299.5 272.8H304.5V280.0H299.5ZM303.6 274.5V276.3M301.3 274.5H305.9M301.3 276.3H305.9M301.1 271.8H306.1V279.0H301.1ZM308.6 271.6V273.5M306.3 271.6H310.9M306.3 273.5H310.9M306.1 268.9H311.1V276.1H306.1ZM310.3 270.6V272.5M308.0 270.6H312.6M308.0 272.5H312.6M307.8 267.9H312.8V275.1H307.8ZM313.5 268.7V270.7M311.2 268.7H315.8M311.2 270.7H315.8M311.0 266.1H316.0V273.3H311.0ZM315.1 267.6V269.7M312.8 267.6H317.4M312.8 269.7H317.4M312.6 265.0H317.6V272.2H312.6ZM316.7 266.7V268.8M314.4 266.7H319.0M314.4 268.8H319.0M314.2 264.1H319.2V271.3H314.2ZM318.3 265.8V268.0M316.0 265.8H320.6M316.0 268.0H320.6M315.8 263.3H320.8V270.5H315.8ZM319.9 264.7V266.9M317.6 264.7H322.2M317.6 266.9H322.2M317.4 262.2H322.4V269.4H317.4ZM321.5 263.9V266.1M319.2 263.9H323.8M319.2 266.1H323.8M319.0 261.4H324.0V268.6H319.0ZM323.1 262.8V265.1M320.8 262.8H325.4M320.8 265.1H325.4M320.6 260.3H325.6V267.5H320.6ZM326.2 261.1V263.5M323.9 261.1H328.5M323.9 263.5H328.5M323.7 258.7H328.7V265.9H323.7ZM327.8 260.3V262.7M325.5 260.3H330.1M325.5 262.7H330.1M325.3 257.9H330.3V265.1H325.3ZM330.8 258.5V261.0M328.5 258.5H333.1M328.5 261.0H333.1M328.3 256.2H333.3V263.4H328.3ZM332.4 257.6V260.1M330.1 257.6H334.7M330.1 260.1H334.7M329.9 255.2H334.9V262.4H329.9ZM333.9 256.6V259.2M331.6 256.6H336.2M331.6 259.2H336.2M331.4 254.3H336.4V261.5H331.4ZM335.4 255.6V258.2M333.1 255.6H337.7M333.1 258.2H337.7M332.9 253.3H337.9V260.5H332.9ZM339.9 253.4V256.1M337.6 253.4H342.2M337.6 256.1H342.2M337.4 251.2H342.4V258.4H337.4ZM341.4 252.4V255.2M339.1 252.4H343.7M339.1 255.2H343.7M338.9 250.2H343.9V257.4H338.9ZM344.4 250.7V253.6M342.1 250.7H346.7M342.1 253.6H346.7M341.9 248.6H346.9V255.8H341.9ZM345.8 249.6V252.5M343.5 249.6H348.1M343.5 252.5H348.1M343.3 247.5H348.3V254.7H343.3ZM351.6 246.6V249.7M349.3 246.6H353.9M349.3 249.7H353.9M349.1 244.6H354.1V251.8H349.1ZM353.1 245.7V248.8M350.8 245.7H355.4M350.8 248.8H355.4M350.6 243.6H355.6V250.8H350.6ZM354.5 245.4V248.6M352.2 245.4H356.8M352.2 248.6H356.8M352.0 243.4H357.0V250.6H352.0ZM357.4 244.1V247.4M355.1 244.1H359.7M355.1 247.4H359.7M354.9 242.1H359.9V249.3H354.9ZM361.6 241.6V245.0M359.3 241.6H363.9M359.3 245.0H363.9M359.1 239.7H364.1V246.9H359.1ZM363.0 241.2V244.8M360.7 241.2H365.3M360.7 244.8H365.3M360.5 239.4H365.5V246.6H360.5ZM367.1 239.4V243.1M364.8 239.4H369.4M364.8 243.1H369.4M364.6 237.7H369.6V244.9H364.6ZM369.9 237.6V241.4M367.6 237.6H372.2M367.6 241.4H372.2M367.4 235.9H372.4V243.1H367.4ZM372.6 236.3V240.2M370.3 236.3H374.9M370.3 240.2H374.9M370.1 234.7H375.1V241.9H370.1ZM374.0 235.8V239.8M371.7 235.8H376.3M371.7 239.8H376.3M371.5 234.2H376.5V241.4H371.5ZM375.3 235.3V239.3M373.0 235.3H377.6M373.0 239.3H377.6M372.8 233.7H377.8V240.9H372.8ZM383.3 231.9V235.9M381.0 231.9H385.6M381.0 235.9H385.6M380.8 230.3H385.8V237.5H380.8ZM387.2 229.3V233.3M384.9 229.3H389.5M384.9 233.3H389.5M384.7 227.7H389.7V234.9H384.7ZM390.0 228.5V232.5M387.7 228.5H392.3M387.7 232.5H392.3M387.5 226.9H392.5V234.1H387.5ZM395.1 226.3V231.3M392.8 226.3H397.4M392.8 231.3H397.4M392.6 225.2H397.6V232.4H392.6ZM406.4 219.8V225.8M404.1 219.8H408.7M404.1 225.8H408.7M403.9 219.2H408.9V226.4H403.9ZM408.8 218.6V224.6M406.5 218.6H411.1M406.5 224.6H411.1M406.3 218.0H411.3V225.2H406.3ZM424.5 210.4V217.4M422.2 210.4H426.8M422.2 217.4H426.8M422.0 210.3H427.0V217.5H422.0ZM442.2 202.0V211.0M439.9 202.0H444.5M439.9 211.0H444.5M439.7 202.9H444.7V210.1H439.7ZM446.5 211.1V220.1M444.2 211.1H448.8M444.2 220.1H448.8M444.0 212.0H449.0V219.2H444.0ZM478.3 202.2V214.2M476.0 202.2H480.6M476.0 214.2H480.6M475.8 204.6H480.8V211.8H475.8ZM509.9 198.9V212.9M507.6 198.9H512.2M507.6 212.9H512.2M507.4 202.3H512.4V209.5H507.4Z" fill="none" stroke="#ff00ff" stroke-width="0.7"/>
<path d="M34.5 494.3V494.6M32.2 494.3H36.8M32.2 494.6H36.8M47.6 464.1V464.4M45.3 464.1H49.9M45.3 464.4H49.9M57.7 449.3V449.6M55.4 449.3H60.0M55.4 449.6H60.0M66.2 442.4V442.7M63.9 442.4H68.5M63.9 442.7H68.5M73.7 431.6V431.9M71.4 431.6H76.0M71.4 431.9H76.0M80.5 425.4V425.7M78.2 425.4H82.8M78.2 425.7H82.8M92.5 414.7V415.0M90.2 414.7H94.8M90.2 415.0H94.8M97.9 410.4V410.7M95.6 410.4H100.2M95.6 410.7H100.2M103.1 406.3V406.7M100.8 406.3H105.4M100.8 406.7H105.4M108.0 402.6V402.9M105.7 402.6H110.3M105.7 402.9H110.3M112.6 399.0V399.4M110.3 399.0H114.9M110.3 399.4H114.9M117.1 395.6V396.0M114.8 395.6H119.4M114.8 396.0H119.4M121.4 392.8V393.2M119.1 392.8H123.7M119.1 393.2H123.7M129.6 387.8V388.2M127.3 387.8H131.9M127.3 388.2H131.9M133.5 385.2V385.6M131.2 385.2H135.8M131.2 385.6H135.8M137.3 382.8V383.2M135.0 382.8H139.6M135.0 383.2H139.6M141.0 380.5V380.9M138.7 380.5H143.3M138.7 380.9H143.3M144.6 378.2V378.7M142.3 378.2H146.9M142.3 378.7H146.9M148.1 376.1V376.6M145.8 376.1H150.4M145.8 376.6H150.4M151.5 374.0V374.5M149.2 374.0H153.8M149.2 374.5H153.8M158.1 370.1V370.6M155.8 370.1H160.4M155.8 370.6H160.4M161.3 368.1V368.7M159.0 368.1H163.6M159.0 368.7H163.6M164.5 366.2V366.8M162.2 366.2H166.8M162.2 366.8H166.8M167.6 364.4V364.9M165.3 364.4H169.9M165.3 364.9H169.9M173.6 360.8V361.4M171.3 360.8H175.9M171.3 361.4H175.9M176.5 359.1V359.8M174.2 359.1H178.8M174.2 359.8H178.8M182.2 355.9V356.6M179.9 355.9H184.5M179.9 356.6H184.5M185.0 354.3V355.0M182.7 354.3H187.3M182.7 355.0H187.3M187.7 352.8V353.5M185.4 352.8H190.0M185.4 353.5H190.0M190.4 351.3V352.0M188.1 351.3H192.7M188.1 352.0H192.7M193.1 349.9V350.6M190.8 349.9H195.4M190.8 350.6H195.4M195.7 348.4V349.2M193.4 348.4H198.0M193.4 349.2H198.0M198.3 347.1V347.9M196.0 347.1H200.6M196.0 347.9H200.6M203.4 344.4V345.3M201.1 344.4H205.7M201.1 345.3H205.7M205.8 343.2V344.0M203.5 343.2H208.1M203.5 344.0H208.1M208.3 341.9V342.8M206.0 341.9H210.6M206.0 342.8H210.6M210.7 340.7V341.6M208.4 340.7H213.0M208.4 341.6H213.0M213.1 339.5V340.4M210.8 339.5H215.4M210.8 340.4H215.4M215.5 338.3V339.3M213.2 338.3H217.8M213.2 339.3H217.8M217.9 337.2V338.1M215.6 337.2H220.2M215.6 338.1H220.2M222.5 334.9V335.9M220.2 334.9H224.8M220.2 335.9H224.8M224.8 333.9V334.9M222.5 333.9H227.1M222.5 334.9H227.1M227.0 332.8V333.8M224.7 332.8H229.3M224.7 333.8H229.3M229.3 331.7V332.8M227.0 331.7H231.6M227.0 332.8H231.6M231.5 330.7V331.8M229.2 330.7H233.8M229.2 331.8H233.8M233.7 329.6V330.7M231.4 329.6H236.0M231.4 330.7H236.0M235.8 328.4V329.6M233.5 328.4H238.1M233.5 329.6H238.1M240.1 326.1V327.3M237.8 326.1H242.4M237.8 327.3H242.4M242.2 325.0V326.2M239.9 325.0H244.5M239.9 326.2H244.5M244.3 323.8V325.1M242.0 323.8H246.6M242.0 325.1H246.6M246.4 322.7V324.0M244.1 322.7H248.7M244.1 324.0H248.7M250.5 320.6V321.9M248.2 320.6H252.8M248.2 321.9H252.8M252.5 319.5V320.8M250.2 319.5H254.8M250.2 320.8H254.8M256.5 317.4V318.8M254.2 317.4H258.8M254.2 318.8H258.8M258.5 316.4V317.8M256.2 316.4H260.8M256.2 317.8H260.8M260.4 315.4V316.9M258.1 315.4H262.7M258.1 316.9H262.7M262.4 314.4V315.9M260.1 314.4H264.7M260.1 315.9H264.7M264.3 313.4V315.0M262.0 313.4H266.6M262.0 315.0H266.6M266.2 312.5V314.1M263.9 312.5H268.5M263.9 314.1H268.5M268.1 311.7V313.3M265.8 311.7H270.4M265.8 313.3H270.4M271.9 309.9V311.6M269.6 309.9H274.2M269.6 311.6H274.2M273.7 309.1V310.9M271.4 309.1H276.0M271.4 310.9H276.0M275.6 308.2V310.0M273.3 308.2H277.9M273.3 310.0H277.9M277.4 307.4V309.3M275.1 307.4H279.7M275.1 309.3H279.7M279.3 306.4V308.3M277.0 306.4H281.6M277.0 308.3H281.6M281.1 305.7V307.7M278.8 305.7H283.4M278.8 307.7H283.4M282.9 305.0V307.0M280.6 305.0H285.2M280.6 307.0H285.2M286.4 303.4V305.5M284.1 303.4H288.7M284.1 305.5H288.7M288.2 302.8V304.9M285.9 302.8H290.5M285.9 304.9H290.5M290.0 301.9V304.0M287.7 301.9H292.3M287.7 304.0H292.3M291.7 301.2V303.4M289.4 301.2H294.0M289.4 303.4H294.0M293.4 300.4V302.7M291.1 300.4H295.7M291.1 302.7H295.7M295.2 299.7V302.0M292.9 299.7H297.5M292.9 302.0H297.5M296.9 298.9V301.3M294.6 298.9H299.2M294.6 301.3H299.2M300.3 297.4V299.8M298.0 297.4H302.6M298.0 299.8H302.6M302.0 296.7V299.2M299.7 296.7H304.3M299.7 299.2H304.3M303.6 295.7V298.3M301.3 295.7H305.9M301.3 298.3H305.9M308.6 293.7V296.5M306.3 293.7H310.9M306.3 296.5H310.9M310.3 292.8V295.6M308.0 292.8H312.6M308.0 295.6H312.6M313.5 291.5V294.4M311.2 291.5H315.8M311.2 294.4H315.8M315.1 291.0V294.0M312.8 291.0H317.4M312.8 294.0H317.4M316.7 290.0V293.0M314.4 290.0H319.0M314.4 293.0H319.0M318.3 289.3V292.4M316.0 289.3H320.6M316.0 292.4H320.6M319.9 288.7V291.9M317.6 288.7H322.2M317.6 291.9H322.2M321.5 287.9V291.2M319.2 287.9H323.8M319.2 291.2H323.8M323.1 287.1V290.4M320.8 287.1H325.4M320.8 290.4H325.4M326.2 285.9V289.3M323.9 285.9H328.5M323.9 289.3H328.5M327.8 285.3V288.8M325.5 285.3H330.1M325.5 288.8H330.1M330.8 284.0V287.6M328.5 284.0H333.1M328.5 287.6H333.1M332.4 283.1V286.7M330.1 283.1H334.7M330.1 286.7H334.7M333.9 282.8V286.6M331.6 282.8H336.2M331.6 286.6H336.2M335.4 282.2V286.0M333.1 282.2H337.7M333.1 286.0H337.7M339.9 279.9V284.0M337.6 279.9H342.2M337.6 284.0H342.2M341.4 279.4V283.5M339.1 279.4H343.7M339.1 283.5H343.7M344.4 278.0V282.2M342.1 278.0H346.7M342.1 282.2H346.7M345.8 277.7V282.0M343.5 277.7H348.1M343.5 282.0H348.1M351.6 274.8V279.4M349.3 274.8H353.9M349.3 279.4H353.9M353.1 274.4V279.1M350.8 274.4H355.4M350.8 279.1H355.4M354.5 273.6V278.3M352.2 273.6H356.8M352.2 278.3H356.8M357.4 272.3V277.2M355.1 272.3H359.7M355.1 277.2H359.7M361.6 270.8V275.9M359.3 270.8H363.9M359.3 275.9H363.9M363.0 270.3V275.6M360.7 270.3H365.3M360.7 275.6H365.3M367.1 268.2V273.7M364.8 268.2H369.4M364.8 273.7H369.4M369.9 266.8V272.5M367.6 266.8H372.2M367.6 272.5H372.2M372.6 266.0V271.9M370.3 266.0H374.9M370.3 271.9H374.9M374.0 265.2V271.2M371.7 265.2H376.3M371.7 271.2H376.3M375.3 264.7V270.7M373.0 264.7H377.6M373.0 270.7H377.6M383.3 261.7V267.7M381.0 261.7H385.6M381.0 267.7H385.6M387.2 260.8V266.8M384.9 260.8H389.5M384.9 266.8H389.5M390.0 260.0V266.0M387.7 260.0H392.3M387.7 266.0H392.3M395.1 258.3V265.3M392.8 258.3H397.4M392.8 265.3H397.4M406.4 253.9V261.9M404.1 253.9H408.7M404.1 261.9H408.7M408.8 253.0V261.0M406.5 253.0H411.1M406.5 261.0H411.1M424.5 247.9V258.5M422.2 247.9H426.8M422.2 258.5H426.8M442.2 242.6V253.6M439.9 242.6H444.5M439.9 253.6H444.5M446.5 246.4V257.4M444.2 246.4H448.8M444.2 257.4H448.8M478.3 239.3V253.3M476.0 239.3H480.6M476.0 253.3H480.6M509.9 236.9V251.9M507.6 236.9H512.2M507.6 251.9H512.2" fill="none" stroke="#00ffff" stroke-width="0.7"/>
<path d="M32.1 491.0H36.8V497.8H32.1ZM45.3 460.9H50.0V467.7H45.3ZM55.4 446.0H60.1V452.8H55.4ZM63.9 439.1H68.5V445.9H63.9ZM71.3 428.3H76.0V435.1H71.3ZM78.1 422.1H82.8V428.9H78.1ZM90.1 411.5H94.8V418.3H90.1ZM95.6 407.1H100.3V413.9H95.6ZM100.7 403.1H105.4V409.9H100.7ZM105.6 399.3H110.3V406.1H105.6ZM110.3 395.8H115.0V402.6H110.3ZM114.8 392.4H119.5V399.2H114.8ZM119.1 389.6H123.8V396.4H119.1ZM127.3 384.6H132.0V391.4H127.3ZM131.2 382.0H135.9V388.8H131.2ZM135.0 379.6H139.7V386.4H135.0ZM138.7 377.3H143.4V384.1H138.7ZM142.3 375.1H147.0V381.9H142.3ZM145.8 372.9H150.5V379.7H145.8ZM149.2 370.9H153.9V377.7H149.2ZM155.8 366.9H160.5V373.7H155.8ZM159.0 365.0H163.7V371.8H159.0ZM162.1 363.1H166.8V369.9H162.1ZM165.2 361.3H169.9V368.1H165.2ZM171.2 357.7H175.9V364.5H171.2ZM174.1 356.1H178.8V362.9H174.1ZM179.8 352.8H184.5V359.6H179.8ZM182.6 351.3H187.3V358.1H182.6ZM185.3 349.8H190.0V356.6H185.3ZM188.0 348.3H192.7V355.1H188.0ZM190.7 346.8H195.4V353.6H190.7ZM193.3 345.4H198.0V352.2H193.3ZM195.9 344.1H200.6V350.9H195.9ZM201.0 341.5H205.7V348.3H201.0ZM203.5 340.2H208.2V347.0H203.5ZM206.0 339.0H210.7V345.8H206.0ZM208.4 337.8H213.1V344.6H208.4ZM210.8 336.6H215.5V343.4H210.8ZM213.2 335.4H217.9V342.2H213.2ZM215.5 334.3H220.2V341.1H215.5ZM220.1 332.0H224.8V338.8H220.1ZM222.4 331.0H227.1V337.8H222.4ZM224.7 329.9H229.4V336.7H224.7ZM226.9 328.9H231.6V335.7H226.9ZM229.1 327.8H233.8V334.6H229.1ZM231.3 326.8H236.0V333.6H231.3ZM233.5 325.6H238.2V332.4H233.5ZM237.8 323.3H242.5V330.1H237.8ZM239.9 322.2H244.6V329.0H239.9ZM242.0 321.1H246.7V327.9H242.0ZM244.0 320.0H248.7V326.8H244.0ZM248.1 317.8H252.8V324.6H248.1ZM250.1 316.8H254.8V323.6H250.1ZM254.1 314.7H258.8V321.5H254.1ZM256.1 313.7H260.8V320.5H256.1ZM258.1 312.7H262.8V319.5H258.1ZM260.0 311.7H264.7V318.5H260.0ZM261.9 310.8H266.6V317.6H261.9ZM263.9 309.9H268.6V316.7H263.9ZM265.8 309.1H270.5V315.9H265.8ZM269.5 307.3H274.2V314.1H269.5ZM271.4 306.6H276.1V313.4H271.4ZM273.2 305.7H277.9V312.5H273.2ZM275.1 305.0H279.8V311.8H275.1ZM276.9 304.0H281.6V310.8H276.9ZM278.7 303.3H283.4V310.1H278.7ZM280.5 302.6H285.2V309.4H280.5ZM284.1 301.1H288.8V307.9H284.1ZM285.9 300.4H290.6V307.2H285.9ZM287.6 299.6H292.3V306.4H287.6ZM289.4 298.9H294.1V305.7H289.4ZM291.1 298.1H295.8V304.9H291.1ZM292.8 297.4H297.5V304.2H292.8ZM294.5 296.7H299.2V303.5H294.5ZM297.9 295.2H302.6V302.0H297.9ZM299.6 294.5H304.3V301.3H299.6ZM301.3 293.6H306.0V300.4H301.3ZM306.3 291.7H311.0V298.5H306.3ZM307.9 290.8H312.6V297.6H307.9ZM311.2 289.5H315.9V296.3H311.2ZM312.8 289.1H317.5V295.9H312.8ZM314.4 288.1H319.1V294.9H314.4ZM316.0 287.5H320.7V294.3H316.0ZM317.6 286.9H322.3V293.7H317.6ZM319.2 286.1H323.9V292.9H319.2ZM320.7 285.4H325.4V292.2H320.7ZM323.9 284.2H328.6V291.0H323.9ZM325.4 283.6H330.1V290.4H325.4ZM328.5 282.4H333.2V289.2H328.5ZM330.0 281.5H334.7V288.3H330.0ZM331.5 281.3H336.2V288.1H331.5ZM333.0 280.7H337.7V287.5H333.0ZM337.6 278.6H342.3V285.4H337.6ZM339.0 278.0H343.7V284.8H339.0ZM342.0 276.7H346.7V283.5H342.0ZM343.5 276.5H348.2V283.3H343.5ZM349.3 273.7H354.0V280.5H349.3ZM350.7 273.4H355.4V280.2H350.7ZM352.2 272.5H356.9V279.3H352.2ZM355.0 271.3H359.7V278.1H355.0ZM359.2 269.9H363.9V276.7H359.2ZM360.6 269.5H365.3V276.3H360.6ZM364.8 267.5H369.5V274.3H364.8ZM367.5 266.2H372.2V273.0H367.5ZM370.3 265.6H375.0V272.4H370.3ZM371.6 264.8H376.3V271.6H371.6ZM373.0 264.3H377.7V271.1H373.0ZM380.9 261.3H385.7V268.1H380.9ZM384.8 260.4H389.6V267.2H384.8ZM387.6 259.6H392.4V266.4H387.6ZM392.8 258.4H397.5V265.2H392.8ZM404.0 254.5H408.8V261.3H404.0ZM406.4 253.6H411.2V260.4H406.4ZM422.1 249.8H426.9V256.6H422.1ZM439.8 244.7H444.6V251.5H439.8ZM444.1 248.5H448.9V255.3H444.1ZM475.9 242.9H480.7V249.7H475.9ZM507.5 241.0H512.2V247.8H507.5Z" fill="#00ffff" stroke="none"/>
<path d="M34.5 495.2V495.5M32.2 495.2H36.8M32.2 495.5H36.8M32.2 495.4A2.25 3.2 0 1 0 36.7 495.4A2.25 3.2 0 1 0 32.2 495.4ZM47.6 466.0V466.3M45.3 466.0H49.9M45.3 466.3H49.9M45.4 466.2A2.25 3.2 0 1 0 49.9 466.2A2.25 3.2 0 1 0 45.4 466.2ZM57.7 451.7V452.0M55.4 451.7H60.0M55.4 452.0H60.0M55.5 451.8A2.25 3.2 0 1 0 60.0 451.8A2.25 3.2 0 1 0 55.5 451.8ZM66.2 445.0V445.3M63.9 445.0H68.5M63.9 445.3H68.5M64.0 445.1A2.25 3.2 0 1 0 68.5 445.1A2.25 3.2 0 1 0 64.0 445.1ZM73.7 434.9V435.2M71.4 434.9H76.0M71.4 435.2H76.0M71.4 435.1A2.25 3.2 0 1 0 75.9 435.1A2.25 3.2 0 1 0 71.4 435.1ZM80.5 428.7V429.0M78.2 428.7H82.8M78.2 429.0H82.8M78.2 428.9A2.25 3.2 0 1 0 82.7 428.9A2.25 3.2 0 1 0 78.2 428.9ZM92.5 419.1V419.4M90.2 419.1H94.8M90.2 419.4H94.8M90.2 419.3A2.25 3.2 0 1 0 94.7 419.3A2.25 3.2 0 1 0 90.2 419.3ZM97.9 415.0V415.3M95.6 415.0H100.2M95.6 415.3H100.2M95.7 415.2A2.25 3.2 0 1 0 100.2 415.2A2.25 3.2 0 1 0 95.7 415.2ZM103.1 411.2V411.6M100.8 411.2H105.4M100.8 411.6H105.4M100.8 411.4A2.25 3.2 0 1 0 105.3 411.4A2.25 3.2 0 1 0 100.8 411.4ZM108.0 407.7V408.0M105.7 407.7H110.3M105.7 408.0H110.3M105.7 407.9A2.25 3.2 0 1 0 110.2 407.9A2.25 3.2 0 1 0 105.7 407.9ZM112.6 404.4V404.7M110.3 404.4H114.9M110.3 404.7H114.9M110.4 404.6A2.25 3.2 0 1 0 114.9 404.6A2.25 3.2 0 1 0 110.4 404.6ZM117.1 401.3V401.6M114.8 401.3H119.4M114.8 401.6H119.4M114.9 401.5A2.25 3.2 0 1 0 119.4 401.5A2.25 3.2 0 1 0 114.9 401.5ZM121.4 398.7V399.1M119.1 398.7H123.7M119.1 399.1H123.7M119.2 398.9A2.25 3.2 0 1 0 123.7 398.9A2.25 3.2 0 1 0 119.2 398.9ZM129.6 394.1V394.5M127.3 394.1H131.9M127.3 394.5H131.9M127.4 394.3A2.25 3.2 0 1 0 131.9 394.3A2.25 3.2 0 1 0 127.4 394.3ZM133.5 391.8V392.2M131.2 391.8H135.8M131.2 392.2H135.8M131.3 392.0A2.25 3.2 0 1 0 135.8 392.0A2.25 3.2 0 1 0 131.3 392.0ZM137.3 389.6V390.0M135.0 389.6H139.6M135.0 390.0H139.6M135.1 389.8A2.25 3.2 0 1 0 139.6 389.8A2.25 3.2 0 1 0 135.1 389.8ZM141.0 387.5V387.9M138.7 387.5H143.3M138.7 387.9H143.3M138.8 387.7A2.25 3.2 0 1 0 143.3 387.7A2.25 3.2 0 1 0 138.8 387.7ZM144.6 385.5V385.9M142.3 385.5H146.9M142.3 385.9H146.9M142.4 385.7A2.25 3.2 0 1 0 146.9 385.7A2.25 3.2 0 1 0 142.4 385.7ZM148.1 383.5V384.0M145.8 383.5H150.4M145.8 384.0H150.4M145.9 383.8A2.25 3.2 0 1 0 150.4 383.8A2.25 3.2 0 1 0 145.9 383.8ZM151.5 381.7V382.2M149.2 381.7H153.8M149.2 382.2H153.8M149.3 381.9A2.25 3.2 0 1 0 153.8 381.9A2.25 3.2 0 1 0 149.3 381.9ZM158.1 378.2V378.7M155.8 378.2H160.4M155.8 378.7H160.4M155.9 378.4A2.25 3.2 0 1 0 160.4 378.4A2.25 3.2 0 1 0 155.9 378.4ZM161.3 376.4V376.9M159.0 376.4H163.6M159.0 376.9H163.6M159.1 376.7A2.25 3.2 0 1 0 163.6 376.7A2.25 3.2 0 1 0 159.1 376.7ZM164.5 374.7V375.2M162.2 374.7H166.8M162.2 375.2H166.8M162.2 374.9A2.25 3.2 0 1 0 166.7 374.9A2.25 3.2 0 1 0 162.2 374.9ZM167.6 373.0V373.5M165.3 373.0H169.9M165.3 373.5H169.9M165.3 373.3A2.25 3.2 0 1 0 169.8 373.3A2.25 3.2 0 1 0 165.3 373.3ZM173.6 369.8V370.3M171.3 369.8H175.9M171.3 370.3H175.9M171.3 370.1A2.25 3.2 0 1 0 175.8 370.1A2.25 3.2 0 1 0 171.3 370.1ZM176.5 368.3V368.8M174.2 368.3H178.8M174.2 368.8H178.8M174.2 368.6A2.25 3.2 0 1 0 178.7 368.6A2.25 3.2 0 1 0 174.2 368.6ZM182.2 365.4V365.9M179.9 365.4H184.5M179.9 365.9H184.5M179.9 365.6A2.25 3.2 0 1 0 184.4 365.6A2.25 3.2 0 1 0 179.9 365.6ZM185.0 364.0V364.5M182.7 364.0H187.3M182.7 364.5H187.3M182.7 364.3A2.25 3.2 0 1 0 187.2 364.3A2.25 3.2 0 1 0 182.7 364.3ZM187.7 362.6V363.2M185.4 362.6H190.0M185.4 363.2H190.0M185.4 362.9A2.25 3.2 0 1 0 189.9 362.9A2.25 3.2 0 1 0 185.4 362.9ZM190.4 361.3V361.9M188.1 361.3H192.7M188.1 361.9H192.7M188.1 361.6A2.25 3.2 0 1 0 192.6 361.6A2.25 3.2 0 1 0 188.1 361.6ZM193.1 360.0V360.6M190.8 360.0H195.4M190.8 360.6H195.4M190.8 360.3A2.25 3.2 0 1 0 195.3 360.3A2.25 3.2 0 1 0 190.8 360.3ZM195.7 358.7V359.3M193.4 358.7H198.0M193.4 359.3H198.0M193.4 359.0A2.25 3.2 0 1 0 197.9 359.0A2.25 3.2 0 1 0 193.4 359.0ZM198.3 357.6V358.2M196.0 357.6H200.6M196.0 358.2H200.6M196.0 357.9A2.25 3.2 0 1 0 200.5 357.9A2.25 3.2 0 1 0 196.0 357.9ZM203.4 355.4V356.0M201.1 355.4H205.7M201.1 356.0H205.7M201.1 355.7A2.25 3.2 0 1 0 205.6 355.7A2.25 3.2 0 1 0 201.1 355.7ZM205.8 354.4V355.0M203.5 354.4H208.1M203.5 355.0H208.1M203.6 354.7A2.25 3.2 0 1 0 208.1 354.7A2.25 3.2 0 1 0 203.6 354.7ZM208.3 353.3V354.0M206.0 353.3H210.6M206.0 354.0H210.6M206.1 353.7A2.25 3.2 0 1 0 210.6 353.7A2.25 3.2 0 1 0 206.1 353.7ZM210.7 352.3V353.0M208.4 352.3H213.0M208.4 353.0H213.0M208.5 352.7A2.25 3.2 0 1 0 213.0 352.7A2.25 3.2 0 1 0 208.5 352.7ZM213.1 351.4V352.1M210.8 351.4H215.4M210.8 352.1H215.4M210.9 351.7A2.25 3.2 0 1 0 215.4 351.7A2.25 3.2 0 1 0 210.9 351.7ZM215.5 350.4V351.1M213.2 350.4H217.8M213.2 351.1H217.8M213.3 350.8A2.25 3.2 0 1 0 217.8 350.8A2.25 3.2 0 1 0 213.3 350.8ZM217.9 349.5V350.2M215.6 349.5H220.2M215.6 350.2H220.2M215.6 349.9A2.25 3.2 0 1 0 220.1 349.9A2.25 3.2 0 1 0 215.6 349.9ZM222.5 347.7V348.4M220.2 347.7H224.8M220.2 348.4H224.8M220.2 348.1A2.25 3.2 0 1 0 224.7 348.1A2.25 3.2 0 1 0 220.2 348.1ZM224.8 346.8V347.6M222.5 346.8H227.1M222.5 347.6H227.1M222.5 347.2A2.25 3.2 0 1 0 227.0 347.2A2.25 3.2 0 1 0 222.5 347.2ZM227.0 345.9V346.7M224.7 345.9H229.3M224.7 346.7H229.3M224.8 346.3A2.25 3.2 0 1 0 229.3 346.3A2.25 3.2 0 1 0 224.8 346.3ZM229.3 345.1V345.9M227.0 345.1H231.6M227.0 345.9H231.6M227.0 345.5A2.25 3.2 0 1 0 231.5 345.5A2.25 3.2 0 1 0 227.0 345.5ZM231.5 344.3V345.1M229.2 344.3H233.8M229.2 345.1H233.8M229.2 344.7A2.25 3.2 0 1 0 233.7 344.7A2.25 3.2 0 1 0 229.2 344.7ZM233.7 343.4V344.2M231.4 343.4H236.0M231.4 344.2H236.0M231.4 343.8A2.25 3.2 0 1 0 235.9 343.8A2.25 3.2 0 1 0 231.4 343.8ZM235.8 342.4V343.3M233.5 342.4H238.1M233.5 343.3H238.1M233.6 342.9A2.25 3.2 0 1 0 238.1 342.9A2.25 3.2 0 1 0 233.6 342.9ZM240.1 340.5V341.4M237.8 340.5H242.4M237.8 341.4H242.4M237.9 341.0A2.25 3.2 0 1 0 242.4 341.0A2.25 3.2 0 1 0 237.9 341.0ZM242.2 339.6V340.5M239.9 339.6H244.5M239.9 340.5H244.5M240.0 340.0A2.25 3.2 0 1 0 244.5 340.0A2.25 3.2 0 1 0 240.0 340.0ZM244.3 338.7V339.6M242.0 338.7H246.6M242.0 339.6H246.6M242.1 339.1A2.25 3.2 0 1 0 246.6 339.1A2.25 3.2 0 1 0 242.1 339.1ZM246.4 337.8V338.7M244.1 337.8H248.7M244.1 338.7H248.7M244.1 338.2A2.25 3.2 0 1 0 248.6 338.2A2.25 3.2 0 1 0 244.1 338.2ZM250.5 336.0V337.0M248.2 336.0H252.8M248.2 337.0H252.8M248.2 336.5A2.25 3.2 0 1 0 252.7 336.5A2.25 3.2 0 1 0 248.2 336.5ZM252.5 335.1V336.1M250.2 335.1H254.8M250.2 336.1H254.8M250.2 335.6A2.25 3.2 0 1 0 254.7 335.6A2.25 3.2 0 1 0 250.2 335.6ZM256.5 333.5V334.5M254.2 333.5H258.8M254.2 334.5H258.8M254.2 334.0A2.25 3.2 0 1 0 258.7 334.0A2.25 3.2 0 1 0 254.2 334.0ZM258.5 332.6V333.6M256.2 332.6H260.8M256.2 333.6H260.8M256.2 333.1A2.25 3.2 0 1 0 260.7 333.1A2.25 3.2 0 1 0 256.2 333.1ZM260.4 331.8V332.9M258.1 331.8H262.7M258.1 332.9H262.7M258.2 332.3A2.25 3.2 0 1 0 262.7 332.3A2.25 3.2 0 1 0 258.2 332.3ZM262.4 331.0V332.1M260.1 331.0H264.7M260.1 332.1H264.7M260.1 331.5A2.25 3.2 0 1 0 264.6 331.5A2.25 3.2 0 1 0 260.1 331.5ZM264.3 330.2V331.3M262.0 330.2H266.6M262.0 331.3H266.6M262.0 330.7A2.25 3.2 0 1 0 266.5 330.7A2.25 3.2 0 1 0 262.0 330.7ZM266.2 329.4V330.5M263.9 329.4H268.5M263.9 330.5H268.5M264.0 330.0A2.25 3.2 0 1 0 268.5 330.0A2.25 3.2 0 1 0 264.0 330.0ZM268.1 328.6V329.8M265.8 328.6H270.4M265.8 329.8H270.4M265.9 329.2A2.25 3.2 0 1 0 270.4 329.2A2.25 3.2 0 1 0 265.9 329.2ZM271.9 327.1V328.3M269.6 327.1H274.2M269.6 328.3H274.2M269.6 327.7A2.25 3.2 0 1 0 274.1 327.7A2.25 3.2 0 1 0 269.6 327.7ZM273.7 326.3V327.6M271.4 326.3H276.0M271.4 327.6H276.0M271.5 326.9A2.25 3.2 0 1 0 276.0 326.9A2.25 3.2 0 1 0 271.5 326.9ZM275.6 325.5V326.9M273.3 325.5H277.9M273.3 326.9H277.9M273.3 326.2A2.25 3.2 0 1 0 277.8 326.2A2.25 3.2 0 1 0 273.3 326.2ZM277.4 324.8V326.2M275.1 324.8H279.7M275.1 326.2H279.7M275.2 325.5A2.25 3.2 0 1 0 279.7 325.5A2.25 3.2 0 1 0 275.2 325.5ZM279.3 324.1V325.5M277.0 324.1H281.6M277.0 325.5H281.6M277.0 324.8A2.25 3.2 0 1 0 281.5 324.8A2.25 3.2 0 1 0 277.0 324.8ZM281.1 323.4V324.8M278.8 323.4H283.4M278.8 324.8H283.4M278.8 324.1A2.25 3.2 0 1 0 283.3 324.1A2.25 3.2 0 1 0 278.8 324.1ZM282.9 322.7V324.2M280.6 322.7H285.2M280.6 324.2H285.2M280.6 323.4A2.25 3.2 0 1 0 285.1 323.4A2.25 3.2 0 1 0 280.6 323.4ZM286.4 321.2V322.8M284.1 321.2H288.7M284.1 322.8H288.7M284.2 322.0A2.25 3.2 0 1 0 288.7 322.0A2.25 3.2 0 1 0 284.2 322.0ZM288.2 320.6V322.2M285.9 320.6H290.5M285.9 322.2H290.5M286.0 321.4A2.25 3.2 0 1 0 290.5 321.4A2.25 3.2 0 1 0 286.0 321.4ZM290.0 319.8V321.5M287.7 319.8H292.3M287.7 321.5H292.3M287.7 320.7A2.25 3.2 0 1 0 292.2 320.7A2.25 3.2 0 1 0 287.7 320.7ZM291.7 319.1V320.8M289.4 319.1H294.0M289.4 320.8H294.0M289.5 320.0A2.25 3.2 0 1 0 294.0 320.0A2.25 3.2 0 1 0 289.5 320.0ZM293.4 318.5V320.3M291.1 318.5H295.7M291.1 320.3H295.7M291.2 319.4A2.25 3.2 0 1 0 295.7 319.4A2.25 3.2 0 1 0 291.2 319.4ZM295.2 317.8V319.7M292.9 317.8H297.5M292.9 319.7H297.5M292.9 318.8A2.25 3.2 0 1 0 297.4 318.8A2.25 3.2 0 1 0 292.9 318.8ZM296.9 317.1V319.0M294.6 317.1H299.2M294.6 319.0H299.2M294.6 318.1A2.25 3.2 0 1 0 299.1 318.1A2.25 3.2 0 1 0 294.6 318.1ZM300.3 315.8V317.9M298.0 315.8H302.6M298.0 317.9H302.6M298.0 316.9A2.25 3.2 0 1 0 302.5 316.9A2.25 3.2 0 1 0 298.0 316.9ZM302.0 315.2V317.4M299.7 315.2H304.3M299.7 317.4H304.3M299.7 316.3A2.25 3.2 0 1 0 304.2 316.3A2.25 3.2 0 1 0 299.7 316.3ZM303.6 314.5V316.8M301.3 314.5H305.9M301.3 316.8H305.9M301.4 315.7A2.25 3.2 0 1 0 305.9 315.7A2.25 3.2 0 1 0 301.4 315.7ZM308.6 312.8V315.4M306.3 312.8H310.9M306.3 315.4H310.9M306.4 314.1A2.25 3.2 0 1 0 310.9 314.1A2.25 3.2 0 1 0 306.4 314.1ZM310.3 312.3V315.1M308.0 312.3H312.6M308.0 315.1H312.6M308.0 313.7A2.25 3.2 0 1 0 312.5 313.7A2.25 3.2 0 1 0 308.0 313.7ZM313.5 310.9V313.9M311.2 310.9H315.8M311.2 313.9H315.8M311.3 312.4A2.25 3.2 0 1 0 315.8 312.4A2.25 3.2 0 1 0 311.3 312.4ZM315.1 310.4V313.5M312.8 310.4H317.4M312.8 313.5H317.4M312.9 312.0A2.25 3.2 0 1 0 317.4 312.0A2.25 3.2 0 1 0 312.9 312.0ZM316.7 309.7V313.0M314.4 309.7H319.0M314.4 313.0H319.0M314.5 311.4A2.25 3.2 0 1 0 319.0 311.4A2.25 3.2 0 1 0 314.5 311.4ZM318.3 309.4V312.8M316.0 309.4H320.6M316.0 312.8H320.6M316.1 311.1A2.25 3.2 0 1 0 320.6 311.1A2.25 3.2 0 1 0 316.1 311.1ZM319.9 308.6V312.2M317.6 308.6H322.2M317.6 312.2H322.2M317.7 310.4A2.25 3.2 0 1 0 322.2 310.4A2.25 3.2 0 1 0 317.7 310.4ZM321.5 308.1V311.9M319.2 308.1H323.8M319.2 311.9H323.8M319.3 310.0A2.25 3.2 0 1 0 323.8 310.0A2.25 3.2 0 1 0 319.3 310.0ZM323.1 307.3V311.2M320.8 307.3H325.4M320.8 311.2H325.4M320.8 309.3A2.25 3.2 0 1 0 325.3 309.3A2.25 3.2 0 1 0 320.8 309.3ZM326.2 306.3V310.5M323.9 306.3H328.5M323.9 310.5H328.5M324.0 308.4A2.25 3.2 0 1 0 328.5 308.4A2.25 3.2 0 1 0 324.0 308.4ZM327.8 305.7V310.1M325.5 305.7H330.1M325.5 310.1H330.1M325.5 307.9A2.25 3.2 0 1 0 330.0 307.9A2.25 3.2 0 1 0 325.5 307.9ZM330.8 304.3V309.0M328.5 304.3H333.1M328.5 309.0H333.1M328.6 306.6A2.25 3.2 0 1 0 333.1 306.6A2.25 3.2 0 1 0 328.6 306.6ZM332.4 304.3V309.2M330.1 304.3H334.7M330.1 309.2H334.7M330.1 306.8A2.25 3.2 0 1 0 334.6 306.8A2.25 3.2 0 1 0 330.1 306.8ZM333.9 303.7V308.7M331.6 303.7H336.2M331.6 308.7H336.2M331.6 306.2A2.25 3.2 0 1 0 336.1 306.2A2.25 3.2 0 1 0 331.6 306.2ZM335.4 302.6V307.8M333.1 302.6H337.7M333.1 307.8H337.7M333.1 305.2A2.25 3.2 0 1 0 337.6 305.2A2.25 3.2 0 1 0 333.1 305.2ZM339.9 301.5V307.3M337.6 301.5H342.2M337.6 307.3H342.2M337.7 304.4A2.25 3.2 0 1 0 342.2 304.4A2.25 3.2 0 1 0 337.7 304.4ZM341.4 300.7V306.7M339.1 300.7H343.7M339.1 306.7H343.7M339.1 303.7A2.25 3.2 0 1 0 343.6 303.7A2.25 3.2 0 1 0 339.1 303.7ZM344.4 299.7V306.2M342.1 299.7H346.7M342.1 306.2H346.7M342.1 303.0A2.25 3.2 0 1 0 346.6 303.0A2.25 3.2 0 1 0 342.1 303.0ZM345.8 299.2V305.8M343.5 299.2H348.1M343.5 305.8H348.1M343.6 302.5A2.25 3.2 0 1 0 348.1 302.5A2.25 3.2 0 1 0 343.6 302.5ZM351.6 296.7V304.1M349.3 296.7H353.9M349.3 304.1H353.9M349.4 300.4A2.25 3.2 0 1 0 353.9 300.4A2.25 3.2 0 1 0 349.4 300.4ZM353.1 296.7V304.3M350.8 296.7H355.4M350.8 304.3H355.4M350.8 300.5A2.25 3.2 0 1 0 355.3 300.5A2.25 3.2 0 1 0 350.8 300.5ZM354.5 296.8V304.6M352.2 296.8H356.8M352.2 304.6H356.8M352.3 300.7A2.25 3.2 0 1 0 356.8 300.7A2.25 3.2 0 1 0 352.3 300.7ZM357.4 295.3V303.5M355.1 295.3H359.7M355.1 303.5H359.7M355.1 299.4A2.25 3.2 0 1 0 359.6 299.4A2.25 3.2 0 1 0 355.1 299.4ZM361.6 293.9V302.7M359.3 293.9H363.9M359.3 302.7H363.9M359.3 298.3A2.25 3.2 0 1 0 363.8 298.3A2.25 3.2 0 1 0 359.3 298.3ZM363.0 293.3V302.3M360.7 293.3H365.3M360.7 302.3H365.3M360.7 297.8A2.25 3.2 0 1 0 365.2 297.8A2.25 3.2 0 1 0 360.7 297.8ZM367.1 292.1V301.8M364.8 292.1H369.4M364.8 301.8H369.4M364.9 296.9A2.25 3.2 0 1 0 369.4 296.9A2.25 3.2 0 1 0 364.9 296.9ZM369.9 292.0V302.1M367.6 292.0H372.2M367.6 302.1H372.2M367.6 297.0A2.25 3.2 0 1 0 372.1 297.0A2.25 3.2 0 1 0 367.6 297.0ZM372.6 291.8V302.4M370.3 291.8H374.9M370.3 302.4H374.9M370.4 297.1A2.25 3.2 0 1 0 374.9 297.1A2.25 3.2 0 1 0 370.4 297.1ZM374.0 290.8V301.7M371.7 290.8H376.3M371.7 301.7H376.3M371.7 296.2A2.25 3.2 0 1 0 376.2 296.2A2.25 3.2 0 1 0 371.7 296.2ZM375.3 290.4V301.4M373.0 290.4H377.6M373.0 301.4H377.6M373.1 295.9A2.25 3.2 0 1 0 377.6 295.9A2.25 3.2 0 1 0 373.1 295.9ZM383.3 286.8V299.2M381.0 286.8H385.6M381.0 299.2H385.6M381.1 293.0A2.25 3.2 0 1 0 385.6 293.0A2.25 3.2 0 1 0 381.1 293.0ZM387.2 286.0V298.6M384.9 286.0H389.5M384.9 298.6H389.5M384.9 292.3A2.25 3.2 0 1 0 389.4 292.3A2.25 3.2 0 1 0 384.9 292.3ZM390.0 285.4V298.2M387.7 285.4H392.3M387.7 298.2H392.3M387.8 291.8A2.25 3.2 0 1 0 392.2 291.8A2.25 3.2 0 1 0 387.8 291.8ZM395.1 284.4V297.4M392.8 284.4H397.4M392.8 297.4H397.4M392.9 290.9A2.25 3.2 0 1 0 397.4 290.9A2.25 3.2 0 1 0 392.9 290.9ZM406.4 280.5V294.5M404.1 280.5H408.7M404.1 294.5H408.7M404.1 287.5A2.25 3.2 0 1 0 408.6 287.5A2.25 3.2 0 1 0 404.1 287.5ZM408.8 280.2V294.2M406.5 280.2H411.1M406.5 294.2H411.1M406.6 287.2A2.25 3.2 0 1 0 411.1 287.2A2.25 3.2 0 1 0 406.6 287.2ZM424.5 276.3V291.1M422.2 276.3H426.8M422.2 291.1H426.8M422.2 283.7A2.25 3.2 0 1 0 426.8 283.7A2.25 3.2 0 1 0 422.2 283.7ZM442.2 271.6V287.4M439.9 271.6H444.5M439.9 287.4H444.5M439.9 279.5A2.25 3.2 0 1 0 444.4 279.5A2.25 3.2 0 1 0 439.9 279.5ZM446.5 279.3V293.3M444.2 279.3H448.8M444.2 293.3H448.8M444.2 286.3A2.25 3.2 0 1 0 448.8 286.3A2.25 3.2 0 1 0 444.2 286.3ZM478.3 276.4V292.2M476.0 276.4H480.6M476.0 292.2H480.6M476.1 284.3A2.25 3.2 0 1 0 480.6 284.3A2.25 3.2 0 1 0 476.1 284.3ZM509.9 276.9V291.7M507.6 276.9H512.2M507.6 291.7H512.2M507.6 284.3A2.25 3.2 0 1 0 512.1 284.3A2.25 3.2 0 1 0 507.6 284.3Z" fill="none" stroke="#ffff00" stroke-width="0.7"/>
<path d="M34.5 496.8V497.1M32.2 496.8H36.8M32.2 497.1H36.8M34.5 493.3L36.7 498.5H32.2ZM34.2 496.9h0.6M47.6 468.5V468.8M45.3 468.5H49.9M45.3 468.8H49.9M47.6 465.1L49.9 470.3H45.4ZM47.3 468.7h0.6M57.7 454.7V455.0M55.4 454.7H60.0M55.4 455.0H60.0M57.7 451.2L60.0 456.4H55.5ZM57.4 454.8h0.6M66.2 448.0V448.3M63.9 448.0H68.5M63.9 448.3H68.5M66.2 444.5L68.5 449.7H64.0ZM65.9 448.1h0.6M73.7 438.4V438.7M71.4 438.4H76.0M71.4 438.7H76.0M73.7 435.0L75.9 440.2H71.4ZM73.4 438.6h0.6M80.5 432.2V432.5M78.2 432.2H82.8M78.2 432.5H82.8M80.5 428.8L82.7 433.9H78.2ZM80.2 432.3h0.6M92.5 424.1V424.6M90.2 424.1H94.8M90.2 424.6H94.8M92.5 420.8L94.7 426.0H90.2ZM92.2 424.4h0.6M97.9 420.5V421.1M95.6 420.5H100.2M95.6 421.1H100.2M97.9 417.2L100.2 422.4H95.7ZM97.6 420.8h0.6M103.1 417.2V417.7M100.8 417.2H105.4M100.8 417.7H105.4M103.1 413.9L105.3 419.0H100.8ZM102.8 417.4h0.6M108.0 413.9V414.5M105.7 413.9H110.3M105.7 414.5H110.3M108.0 410.7L110.2 415.8H105.7ZM107.7 414.2h0.6M112.6 410.9V411.5M110.3 410.9H114.9M110.3 411.5H114.9M112.6 407.6L114.9 412.8H110.4ZM112.3 411.2h0.6M117.1 408.0V408.7M114.8 408.0H119.4M114.8 408.7H119.4M117.1 404.7L119.4 409.9H114.9ZM116.8 408.3h0.6M121.4 405.6V406.3M119.1 405.6H123.7M119.1 406.3H123.7M121.4 402.3L123.7 407.5H119.2ZM121.1 405.9h0.6M129.6 401.3V402.1M127.3 401.3H131.9M127.3 402.1H131.9M129.6 398.1L131.9 403.3H127.4ZM129.3 401.7h0.6M133.5 399.1V399.9M131.2 399.1H135.8M131.2 399.9H135.8M133.5 395.9L135.8 401.1H131.3ZM133.2 399.5h0.6M137.3 397.0V397.9M135.0 397.0H139.6M135.0 397.9H139.6M137.3 393.8L139.6 399.0H135.1ZM137.0 397.4h0.6M141.0 394.9V395.9M138.7 394.9H143.3M138.7 395.9H143.3M141.0 391.8L143.3 397.0H138.8ZM140.7 395.4h0.6M144.6 393.0V394.0M142.3 393.0H146.9M142.3 394.0H146.9M144.6 389.9L146.9 395.1H142.4ZM144.3 393.5h0.6M148.1 391.2V392.2M145.8 391.2H150.4M145.8 392.2H150.4M148.1 388.1L150.4 393.3H145.9ZM147.8 391.7h0.6M151.5 389.4V390.5M149.2 389.4H153.8M149.2 390.5H153.8M151.5 386.4L153.8 391.6H149.3ZM151.2 390.0h0.6M158.1 386.1V387.3M155.8 386.1H160.4M155.8 387.3H160.4M158.1 383.1L160.4 388.3H155.9ZM157.8 386.7h0.6M161.3 384.3V385.6M159.0 384.3H163.6M159.0 385.6H163.6M161.3 381.4L163.6 386.6H159.1ZM161.0 385.0h0.6M164.5 382.7V384.0M162.2 382.7H166.8M162.2 384.0H166.8M164.5 379.8L166.7 385.0H162.2ZM164.2 383.4h0.6M167.6 381.1V382.5M165.3 381.1H169.9M165.3 382.5H169.9M167.6 378.2L169.8 383.4H165.3ZM167.3 381.8h0.6M173.6 378.0V379.5M171.3 378.0H175.9M171.3 379.5H175.9M173.6 375.2L175.8 380.4H171.3ZM173.3 378.8h0.6M176.5 376.6V378.2M174.2 376.6H178.8M174.2 378.2H178.8M176.5 373.8L178.7 379.0H174.2ZM176.2 377.4h0.6M182.2 373.8V375.5M179.9 373.8H184.5M179.9 375.5H184.5M182.2 371.0L184.4 376.2H179.9ZM181.9 374.6h0.6M185.0 372.5V374.2M182.7 372.5H187.3M182.7 374.2H187.3M185.0 369.8L187.2 375.0H182.7ZM184.7 373.4h0.6M187.7 371.2V373.1M185.4 371.2H190.0M185.4 373.1H190.0M187.7 368.5L189.9 373.7H185.4ZM187.4 372.1h0.6M190.4 370.0V371.9M188.1 370.0H192.7M188.1 371.9H192.7M190.4 367.4L192.6 372.5H188.1ZM190.1 370.9h0.6M193.1 368.7V370.7M190.8 368.7H195.4M190.8 370.7H195.4M193.1 366.1L195.3 371.3H190.8ZM192.8 369.7h0.6M195.7 367.5V369.6M193.4 367.5H198.0M193.4 369.6H198.0M195.7 365.0L197.9 370.1H193.4ZM195.4 368.5h0.6M198.3 366.4V368.6M196.0 366.4H200.6M196.0 368.6H200.6M198.3 363.9L200.5 369.1H196.0ZM198.0 367.5h0.6M203.4 364.4V366.7M201.1 364.4H205.7M201.1 366.7H205.7M203.4 361.9L205.6 367.1H201.1ZM203.1 365.5h0.6M205.8 363.5V365.9M203.5 363.5H208.1M203.5 365.9H208.1M205.8 361.2L208.1 366.3H203.6ZM205.5 364.7h0.6M208.3 362.6V365.1M206.0 362.6H210.6M206.0 365.1H210.6M208.3 360.2L210.6 365.4H206.1ZM208.0 363.8h0.6M210.7 361.8V364.3M208.4 361.8H213.0M208.4 364.3H213.0M210.7 359.5L213.0 364.7H208.5ZM210.4 363.1h0.6M213.1 360.8V363.4M210.8 360.8H215.4M210.8 363.4H215.4M213.1 358.5L215.4 363.7H210.9ZM212.8 362.1h0.6M215.5 359.8V362.6M213.2 359.8H217.8M213.2 362.6H217.8M215.5 357.6L217.8 362.8H213.3ZM215.2 361.2h0.6M217.9 359.2V362.1M215.6 359.2H220.2M215.6 362.1H220.2M217.9 357.0L220.1 362.2H215.6ZM217.6 360.6h0.6M222.5 357.6V360.7M220.2 357.6H224.8M220.2 360.7H224.8M222.5 355.6L224.7 360.8H220.2ZM222.2 359.2h0.6M224.8 356.8V359.9M222.5 356.8H227.1M222.5 359.9H227.1M224.8 354.8L227.0 359.9H222.5ZM224.5 358.3h0.6M227.0 356.2V359.4M224.7 356.2H229.3M224.7 359.4H229.3M227.0 354.2L229.3 359.4H224.8ZM226.7 357.8h0.6M229.3 355.3V358.7M227.0 355.3H231.6M227.0 358.7H231.6M229.3 353.4L231.5 358.6H227.0ZM229.0 357.0h0.6M231.5 354.5V358.0M229.2 354.5H233.8M229.2 358.0H233.8M231.5 352.7L233.7 357.9H229.2ZM231.2 356.3h0.6M233.7 353.9V357.5M231.4 353.9H236.0M231.4 357.5H236.0M233.7 352.1L235.9 357.3H231.4ZM233.4 355.7h0.6M235.8 352.7V356.4M233.5 352.7H238.1M233.5 356.4H238.1M235.8 351.0L238.1 356.2H233.6ZM235.5 354.6h0.6M240.1 351.0V355.0M237.8 351.0H242.4M237.8 355.0H242.4M240.1 349.4L242.4 354.6H237.9ZM239.8 353.0h0.6M242.2 350.3V354.3M239.9 350.3H244.5M239.9 354.3H244.5M242.2 348.7L244.5 353.9H240.0ZM241.9 352.3h0.6M244.3 349.5V353.7M242.0 349.5H246.6M242.0 353.7H246.6M244.3 348.0L246.6 353.2H242.1ZM244.0 351.6h0.6M246.4 348.5V352.8M244.1 348.5H248.7M244.1 352.8H248.7M246.4 347.1L248.6 352.3H244.1ZM246.1 350.7h0.6M250.5 347.0V351.5M248.2 347.0H252.8M248.2 351.5H252.8M250.5 345.7L252.7 350.9H248.2ZM250.2 349.3h0.6M252.5 346.0V350.7M250.2 346.0H254.8M250.2 350.7H254.8M252.5 344.8L254.7 349.9H250.2ZM252.2 348.3h0.6M256.5 344.6V349.6M254.2 344.6H258.8M254.2 349.6H258.8M256.5 343.5L258.7 348.7H254.2ZM256.2 347.1h0.6M258.5 344.1V349.2M256.2 344.1H260.8M256.2 349.2H260.8M258.5 343.1L260.7 348.3H256.2ZM258.2 346.7h0.6M260.4 342.8V348.1M258.1 342.8H262.7M258.1 348.1H262.7M260.4 341.9L262.7 347.1H258.2ZM260.1 345.5h0.6M262.4 342.8V348.2M260.1 342.8H264.7M260.1 348.2H264.7M262.4 341.9L264.6 347.1H260.1ZM262.1 345.5h0.6M264.3 341.4V346.9M262.0 341.4H266.6M262.0 346.9H266.6M264.3 340.6L266.5 345.7H262.0ZM264.0 344.1h0.6M266.2 340.8V346.5M263.9 340.8H268.5M263.9 346.5H268.5M266.2 340.1L268.5 345.3H264.0ZM265.9 343.7h0.6M268.1 340.1V346.0M265.8 340.1H270.4M265.8 346.0H270.4M268.1 339.5L270.4 344.7H265.9ZM267.8 343.1h0.6M271.9 339.0V345.1M269.6 339.0H274.2M269.6 345.1H274.2M271.9 338.5L274.1 343.7H269.6ZM271.6 342.1h0.6M273.7 337.7V344.0M271.4 337.7H276.0M271.4 344.0H276.0M273.7 337.3L276.0 342.5H271.5ZM273.4 340.9h0.6M275.6 336.8V343.3M273.3 336.8H277.9M273.3 343.3H277.9M275.6 336.4L277.8 341.6H273.3ZM275.3 340.0h0.6M277.4 336.9V343.5M275.1 336.9H279.7M275.1 343.5H279.7M277.4 336.6L279.7 341.8H275.2ZM277.1 340.2h0.6M279.3 336.3V343.1M277.0 336.3H281.6M277.0 343.1H281.6M279.3 336.1L281.5 341.3H277.0ZM279.0 339.7h0.6M281.1 335.6V342.6M278.8 335.6H283.4M278.8 342.6H283.4M281.1 335.5L283.3 340.7H278.8ZM280.8 339.1h0.6M282.9 335.6V342.7M280.6 335.6H285.2M280.6 342.7H285.2M282.9 335.6L285.1 340.7H280.6ZM282.6 339.1h0.6M286.4 333.5V341.1M284.1 333.5H288.7M284.1 341.1H288.7M286.4 333.7L288.7 338.9H284.2ZM286.1 337.3h0.6M288.2 332.9V340.7M285.9 332.9H290.5M285.9 340.7H290.5M288.2 333.2L290.5 338.4H286.0ZM287.9 336.8h0.6M290.0 332.6V340.5M287.7 332.6H292.3M287.7 340.5H292.3M290.0 332.9L292.2 338.1H287.7ZM289.7 336.5h0.6M291.7 331.8V339.9M289.4 331.8H294.0M289.4 339.9H294.0M291.7 332.2L294.0 337.4H289.5ZM291.4 335.8h0.6M293.4 331.6V339.9M291.1 331.6H295.7M291.1 339.9H295.7M293.4 332.2L295.7 337.4H291.2ZM293.1 335.8h0.6M295.2 330.0V338.4M292.9 330.0H297.5M292.9 338.4H297.5M295.2 330.6L297.4 335.8H292.9ZM294.9 334.2h0.6M296.9 329.7V338.4M294.6 329.7H299.2M294.6 338.4H299.2M296.9 330.5L299.1 335.6H294.6ZM296.6 334.0h0.6M300.3 327.3V336.4M298.0 327.3H302.6M298.0 336.4H302.6M300.3 328.2L302.5 333.4H298.0ZM300.0 331.8h0.6M302.0 328.4V337.7M299.7 328.4H304.3M299.7 337.7H304.3M302.0 329.5L304.2 334.6H299.7ZM301.7 333.0h0.6M303.6 327.3V336.8M301.3 327.3H305.9M301.3 336.8H305.9M303.6 328.5L305.9 333.7H301.4ZM303.3 332.1h0.6M308.6 326.1V336.2M306.3 326.1H310.9M306.3 336.2H310.9M308.6 327.6L310.9 332.8H306.4ZM308.3 331.2h0.6M310.3 326.2V336.3M308.0 326.2H312.6M308.0 336.3H312.6M310.3 327.7L312.5 332.9H308.0ZM310.0 331.3h0.6M313.5 324.2V334.5M311.2 324.2H315.8M311.2 334.5H315.8M313.5 325.8L315.8 331.0H311.3ZM313.2 329.4h0.6M315.1 323.6V334.0M312.8 323.6H317.4M312.8 334.0H317.4M315.1 325.2L317.4 330.4H312.9ZM314.8 328.8h0.6M316.7 323.0V333.5M314.4 323.0H319.0M314.4 333.5H319.0M316.7 324.6L319.0 329.8H314.5ZM316.4 328.2h0.6M318.3 322.3V332.9M316.0 322.3H320.6M316.0 332.9H320.6M318.3 324.0L320.6 329.2H316.1ZM318.0 327.6h0.6M319.9 321.9V332.6M317.6 321.9H322.2M317.6 332.6H322.2M319.9 323.7L322.2 328.9H317.7ZM319.6 327.3h0.6M321.5 322.1V332.8M319.2 322.1H323.8M319.2 332.8H323.8M321.5 323.9L323.8 329.1H319.3ZM321.2 327.5h0.6M323.1 321.3V332.1M320.8 321.3H325.4M320.8 332.1H325.4M323.1 323.1L325.3 328.3H320.8ZM322.8 326.7h0.6M326.2 320.4V331.4M323.9 320.4H328.5M323.9 331.4H328.5M326.2 322.3L328.5 327.5H324.0ZM325.9 325.9h0.6M327.8 319.8V330.9M325.5 319.8H330.1M325.5 330.9H330.1M327.8 321.8L330.0 327.0H325.5ZM327.5 325.4h0.6M330.8 319.5V330.7M328.5 319.5H333.1M328.5 330.7H333.1M330.8 321.5L333.1 326.7H328.6ZM330.5 325.1h0.6M332.4 318.8V330.2M330.1 318.8H334.7M330.1 330.2H334.7M332.4 320.9L334.6 326.1H330.1ZM332.1 324.5h0.6M333.9 318.1V329.5M331.6 318.1H336.2M331.6 329.5H336.2M333.9 320.2L336.1 325.4H331.6ZM333.6 323.8h0.6M335.4 318.1V329.6M333.1 318.1H337.7M333.1 329.6H337.7M335.4 320.2L337.6 325.4H333.1ZM335.1 323.8h0.6M339.9 316.4V328.1M337.6 316.4H342.2M337.6 328.1H342.2M339.9 318.7L342.2 323.9H337.7ZM339.6 322.3h0.6M341.4 315.4V327.3M339.1 315.4H343.7M339.1 327.3H343.7M341.4 317.8L343.6 322.9H339.1ZM341.1 321.3h0.6M344.4 316.0V328.1M342.1 316.0H346.7M342.1 328.1H346.7M344.4 318.5L346.6 323.6H342.1ZM344.1 322.0h0.6M345.8 315.1V327.2M343.5 315.1H348.1M343.5 327.2H348.1M345.8 317.5L348.1 322.7H343.6ZM345.5 321.1h0.6M351.6 313.0V325.4M349.3 313.0H353.9M349.3 325.4H353.9M351.6 315.6L353.9 320.8H349.4ZM351.3 319.2h0.6M353.1 313.9V326.5M350.8 313.9H355.4M350.8 326.5H355.4M353.1 316.6L355.3 321.8H350.8ZM352.8 320.2h0.6M354.5 313.2V325.9M352.2 313.2H356.8M352.2 325.9H356.8M354.5 316.0L356.8 321.2H352.3ZM354.2 319.6h0.6M357.4 311.7V324.5M355.1 311.7H359.7M355.1 324.5H359.7M357.4 314.5L359.6 319.7H355.1ZM357.1 318.1h0.6M361.6 312.9V326.0M359.3 312.9H363.9M359.3 326.0H363.9M361.6 315.9L363.8 321.1H359.3ZM361.3 319.5h0.6M363.0 311.9V325.1M360.7 311.9H365.3M360.7 325.1H365.3M363.0 315.0L365.2 320.1H360.7ZM362.7 318.5h0.6M367.1 311.6V325.1M364.8 311.6H369.4M364.8 325.1H369.4M367.1 314.8L369.4 320.0H364.9ZM366.8 318.4h0.6M369.9 310.8V324.5M367.6 310.8H372.2M367.6 324.5H372.2M369.9 314.1L372.1 319.3H367.6ZM369.6 317.7h0.6M372.6 310.2V324.1M370.3 310.2H374.9M370.3 324.1H374.9M372.6 313.5L374.9 318.7H370.4ZM372.3 317.1h0.6M374.0 309.1V323.1M371.7 309.1H376.3M371.7 323.1H376.3M374.0 312.5L376.2 317.7H371.7ZM373.7 316.1h0.6M375.3 310.6V324.6M373.0 310.6H377.6M373.0 324.6H377.6M375.3 314.0L377.6 319.2H373.1ZM375.0 317.6h0.6M383.3 306.3V321.7M381.0 306.3H385.6M381.0 321.7H385.6M383.3 310.4L385.6 315.6H381.1ZM383.0 314.0h0.6M387.2 306.0V320.8M384.9 306.0H389.5M384.9 320.8H389.5M387.2 309.8L389.4 315.0H384.9ZM386.9 313.4h0.6M390.0 305.5V320.5M387.7 305.5H392.3M387.7 320.5H392.3M390.0 309.4L392.2 314.6H387.8ZM389.7 313.0h0.6M395.1 304.7V319.7M392.8 304.7H397.4M392.8 319.7H397.4M395.1 308.6L397.4 313.8H392.9ZM394.8 312.2h0.6M406.4 301.2V317.4M404.1 301.2H408.7M404.1 317.4H408.7M406.4 305.7L408.6 310.9H404.1ZM406.1 309.3h0.6M408.8 301.2V317.4M406.5 301.2H411.1M406.5 317.4H411.1M408.8 305.7L411.1 310.9H406.6ZM408.5 309.3h0.6M424.5 297.5V314.9M422.2 297.5H426.8M422.2 314.9H426.8M424.5 302.6L426.8 307.8H422.2ZM424.2 306.2h0.6M442.2 294.3V312.3M439.9 294.3H444.5M439.9 312.3H444.5M442.2 299.7L444.4 304.9H439.9ZM441.9 303.3h0.6M446.5 298.6V317.4M444.2 298.6H448.8M444.2 317.4H448.8M446.5 304.4L448.8 309.6H444.2ZM446.2 308.0h0.6M478.3 296.1V315.5M476.0 296.1H480.6M476.0 315.5H480.6M478.3 302.2L480.6 307.4H476.1ZM478.0 305.8h0.6M509.9 294.8V315.6M507.6 294.8H512.2M507.6 315.6H512.2M509.9 301.6L512.1 306.8H507.6ZM509.6 305.2h0.6" fill="none" stroke="#ff4d00" stroke-width="0.7"/>
</g>
<text x="83.5" y="144.0" fill="#ff4d00" stroke="#ff4d00" stroke-width="0.12" font-size="18.2" text-anchor="end" textLength="32.5" lengthAdjust="spacingAndGlyphs">3.950</text>
<path d="M91.2 137.7H104.7M91.2 134.5V140.9M104.7 134.5V140.9M98.0 134.1L100.2 139.3H95.8ZM97.7 137.7h0.6" fill="none" stroke="#ff4d00" stroke-width="0.7"/>
<text x="83.5" y="163.3" fill="#ff0000" stroke="#ff0000" stroke-width="0.12" font-size="18.2" text-anchor="end" textLength="32.5" lengthAdjust="spacingAndGlyphs">4.000</text>
<path d="M91.2 157.0H104.7M91.2 153.8V160.2M104.7 153.8V160.2M95.8 157.0H100.2M98.0 153.8V160.2" fill="none" stroke="#ff0000" stroke-width="0.7"/>
<text x="83.5" y="182.6" fill="#00ff00" stroke="#00ff00" stroke-width="0.12" font-size="18.2" text-anchor="end" textLength="32.5" lengthAdjust="spacingAndGlyphs">4.020</text>
<path d="M91.2 176.3H104.7M91.2 173.1V179.5M104.7 173.1V179.5M95.8 173.1L100.2 179.5M95.8 179.5L100.2 173.1" fill="none" stroke="#00ff00" stroke-width="0.7"/>
<text x="83.5" y="201.9" fill="#0000ff" stroke="#0000ff" stroke-width="0.12" font-size="18.2" text-anchor="end" textLength="32.5" lengthAdjust="spacingAndGlyphs">4.040</text>
<path d="M91.2 195.6H104.7M91.2 192.4V198.8M104.7 192.4V198.8M95.8 195.6H100.2M98.0 192.4V198.8M95.8 192.4L100.2 198.8M95.8 198.8L100.2 192.4" fill="none" stroke="#0000ff" stroke-width="0.7"/>
<text x="83.5" y="221.2" fill="#ff00ff" stroke="#ff00ff" stroke-width="0.12" font-size="18.2" text-anchor="end" textLength="32.5" lengthAdjust="spacingAndGlyphs">4.050</text>
<path d="M91.2 214.9H104.7M91.2 211.7V218.1M104.7 211.7V218.1M95.5 211.3H100.5V218.5H95.5Z" fill="none" stroke="#ff00ff" stroke-width="0.7"/>
<text x="83.5" y="240.5" fill="#00ffff" stroke="#00ffff" stroke-width="0.12" font-size="18.2" text-anchor="end" textLength="32.5" lengthAdjust="spacingAndGlyphs">4.060</text>
<path d="M91.2 234.2H104.7M91.2 231.0V237.4M104.7 231.0V237.4" fill="none" stroke="#00ffff" stroke-width="0.7"/>
<path d="M95.7 230.8H100.3V237.6H95.7Z" fill="#00ffff"/>
<text x="83.5" y="259.8" fill="#ffff00" stroke="#ffff00" stroke-width="0.12" font-size="18.2" text-anchor="end" textLength="32.5" lengthAdjust="spacingAndGlyphs">4.065</text>
<path d="M91.2 253.5H104.7M91.2 250.3V256.7M104.7 250.3V256.7M95.8 253.5A2.25 3.2 0 1 0 100.2 253.5A2.25 3.2 0 1 0 95.8 253.5Z" fill="none" stroke="#ffff00" stroke-width="0.7"/>
<text x="83.5" y="279.1" fill="#ff4d00" stroke="#ff4d00" stroke-width="0.12" font-size="18.2" text-anchor="end" textLength="32.5" lengthAdjust="spacingAndGlyphs">4.070</text>
<path d="M91.2 272.8H104.7M91.2 269.6V276.0M104.7 269.6V276.0M98.0 269.2L100.2 274.4H95.8ZM97.7 272.8h0.6" fill="none" stroke="#ff4d00" stroke-width="0.7"/>
<text x="66.2" y="526.6" font-size="19.8" text-anchor="middle" textLength="18.6" lengthAdjust="spacingAndGlyphs">0.5</text>
<text x="129.6" y="526.6" font-size="19.8" text-anchor="middle" textLength="7.5" lengthAdjust="spacingAndGlyphs">1</text>
<text x="193.1" y="526.6" font-size="19.8" text-anchor="middle" textLength="18.6" lengthAdjust="spacingAndGlyphs">1.5</text>
<text x="256.5" y="526.6" font-size="19.8" text-anchor="middle" textLength="7.5" lengthAdjust="spacingAndGlyphs">2</text>
<text x="319.9" y="526.6" font-size="19.8" text-anchor="middle" textLength="18.6" lengthAdjust="spacingAndGlyphs">2.5</text>
<text x="383.3" y="526.6" font-size="19.8" text-anchor="middle" textLength="7.5" lengthAdjust="spacingAndGlyphs">3</text>
<text x="446.8" y="526.6" font-size="19.8" text-anchor="middle" textLength="18.6" lengthAdjust="spacingAndGlyphs">3.5</text>
<text x="510.2" y="526.6" font-size="19.8" text-anchor="middle" textLength="7.5" lengthAdjust="spacingAndGlyphs">4</text>
<text x="23.8" y="508.2" font-size="19.8" text-anchor="end" textLength="7.5" lengthAdjust="spacingAndGlyphs">4</text>
<text x="23.8" y="412.5" font-size="19.8" text-anchor="end" textLength="7.5" lengthAdjust="spacingAndGlyphs">6</text>
<text x="23.8" y="316.8" font-size="19.8" text-anchor="end" textLength="7.5" lengthAdjust="spacingAndGlyphs">8</text>
<text x="23.8" y="221.1" font-size="19.8" text-anchor="end" textLength="14.8" lengthAdjust="spacingAndGlyphs">10</text>
<text x="23.8" y="125.4" font-size="19.8" text-anchor="end" textLength="14.8" lengthAdjust="spacingAndGlyphs">12</text>
<text x="23.8" y="29.7" font-size="19.8" text-anchor="end" textLength="14.8" lengthAdjust="spacingAndGlyphs">14</text>
<text x="45.6" y="57.8" font-size="26" textLength="65.2" lengthAdjust="spacingAndGlyphs">V(R,T)/T</text>
<text x="480.2" y="493.2" font-size="25.5" textLength="28" lengthAdjust="spacingAndGlyphs">R T</text>
<text x="69.5" y="116.3" font-size="21" textLength="7.5" lengthAdjust="spacingAndGlyphs">β</text>
</svg>
</body></html>
